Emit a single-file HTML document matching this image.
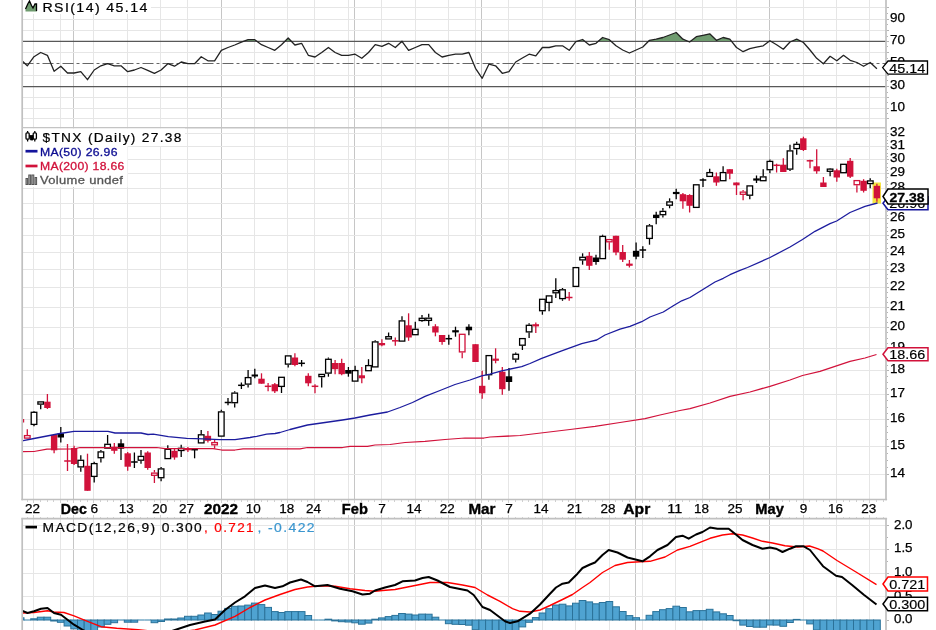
<!DOCTYPE html><html><head><meta charset="utf-8"><title>$TNX</title>
<style>html,body{margin:0;padding:0;background:#fff;overflow:hidden}svg{display:block}text{font-family:"Liberation Sans",sans-serif}</style></head><body>
<svg width="936" height="630" viewBox="0 0 936 630">
<rect width="936" height="630" fill="#fff"/>
<g shape-rendering="crispEdges">
<line x1="33.5" y1="0" x2="33.5" y2="499.5" stroke="#e6e6e6" stroke-width="1"/>
<line x1="33.5" y1="518.5" x2="33.5" y2="630" stroke="#e6e6e6" stroke-width="1"/>
<line x1="60.5" y1="0" x2="60.5" y2="499.5" stroke="#e6e6e6" stroke-width="1"/>
<line x1="60.5" y1="518.5" x2="60.5" y2="630" stroke="#e6e6e6" stroke-width="1"/>
<line x1="93.5" y1="0" x2="93.5" y2="499.5" stroke="#e6e6e6" stroke-width="1"/>
<line x1="93.5" y1="518.5" x2="93.5" y2="630" stroke="#e6e6e6" stroke-width="1"/>
<line x1="127.5" y1="0" x2="127.5" y2="499.5" stroke="#e6e6e6" stroke-width="1"/>
<line x1="127.5" y1="518.5" x2="127.5" y2="630" stroke="#e6e6e6" stroke-width="1"/>
<line x1="160.5" y1="0" x2="160.5" y2="499.5" stroke="#e6e6e6" stroke-width="1"/>
<line x1="160.5" y1="518.5" x2="160.5" y2="630" stroke="#e6e6e6" stroke-width="1"/>
<line x1="187.5" y1="0" x2="187.5" y2="499.5" stroke="#e6e6e6" stroke-width="1"/>
<line x1="187.5" y1="518.5" x2="187.5" y2="630" stroke="#e6e6e6" stroke-width="1"/>
<line x1="254.5" y1="0" x2="254.5" y2="499.5" stroke="#e6e6e6" stroke-width="1"/>
<line x1="254.5" y1="518.5" x2="254.5" y2="630" stroke="#e6e6e6" stroke-width="1"/>
<line x1="287.5" y1="0" x2="287.5" y2="499.5" stroke="#e6e6e6" stroke-width="1"/>
<line x1="287.5" y1="518.5" x2="287.5" y2="630" stroke="#e6e6e6" stroke-width="1"/>
<line x1="314.5" y1="0" x2="314.5" y2="499.5" stroke="#e6e6e6" stroke-width="1"/>
<line x1="314.5" y1="518.5" x2="314.5" y2="630" stroke="#e6e6e6" stroke-width="1"/>
<line x1="348.5" y1="0" x2="348.5" y2="499.5" stroke="#e6e6e6" stroke-width="1"/>
<line x1="348.5" y1="518.5" x2="348.5" y2="630" stroke="#e6e6e6" stroke-width="1"/>
<line x1="381.5" y1="0" x2="381.5" y2="499.5" stroke="#e6e6e6" stroke-width="1"/>
<line x1="381.5" y1="518.5" x2="381.5" y2="630" stroke="#e6e6e6" stroke-width="1"/>
<line x1="415.5" y1="0" x2="415.5" y2="499.5" stroke="#e6e6e6" stroke-width="1"/>
<line x1="415.5" y1="518.5" x2="415.5" y2="630" stroke="#e6e6e6" stroke-width="1"/>
<line x1="448.5" y1="0" x2="448.5" y2="499.5" stroke="#e6e6e6" stroke-width="1"/>
<line x1="448.5" y1="518.5" x2="448.5" y2="630" stroke="#e6e6e6" stroke-width="1"/>
<line x1="475.5" y1="0" x2="475.5" y2="499.5" stroke="#e6e6e6" stroke-width="1"/>
<line x1="475.5" y1="518.5" x2="475.5" y2="630" stroke="#e6e6e6" stroke-width="1"/>
<line x1="508.5" y1="0" x2="508.5" y2="499.5" stroke="#e6e6e6" stroke-width="1"/>
<line x1="508.5" y1="518.5" x2="508.5" y2="630" stroke="#e6e6e6" stroke-width="1"/>
<line x1="542.5" y1="0" x2="542.5" y2="499.5" stroke="#e6e6e6" stroke-width="1"/>
<line x1="542.5" y1="518.5" x2="542.5" y2="630" stroke="#e6e6e6" stroke-width="1"/>
<line x1="575.5" y1="0" x2="575.5" y2="499.5" stroke="#e6e6e6" stroke-width="1"/>
<line x1="575.5" y1="518.5" x2="575.5" y2="630" stroke="#e6e6e6" stroke-width="1"/>
<line x1="609.5" y1="0" x2="609.5" y2="499.5" stroke="#e6e6e6" stroke-width="1"/>
<line x1="609.5" y1="518.5" x2="609.5" y2="630" stroke="#e6e6e6" stroke-width="1"/>
<line x1="642.5" y1="0" x2="642.5" y2="499.5" stroke="#e6e6e6" stroke-width="1"/>
<line x1="642.5" y1="518.5" x2="642.5" y2="630" stroke="#e6e6e6" stroke-width="1"/>
<line x1="675.5" y1="0" x2="675.5" y2="499.5" stroke="#e6e6e6" stroke-width="1"/>
<line x1="675.5" y1="518.5" x2="675.5" y2="630" stroke="#e6e6e6" stroke-width="1"/>
<line x1="702.5" y1="0" x2="702.5" y2="499.5" stroke="#e6e6e6" stroke-width="1"/>
<line x1="702.5" y1="518.5" x2="702.5" y2="630" stroke="#e6e6e6" stroke-width="1"/>
<line x1="736.5" y1="0" x2="736.5" y2="499.5" stroke="#e6e6e6" stroke-width="1"/>
<line x1="736.5" y1="518.5" x2="736.5" y2="630" stroke="#e6e6e6" stroke-width="1"/>
<line x1="803.5" y1="0" x2="803.5" y2="499.5" stroke="#e6e6e6" stroke-width="1"/>
<line x1="803.5" y1="518.5" x2="803.5" y2="630" stroke="#e6e6e6" stroke-width="1"/>
<line x1="836.5" y1="0" x2="836.5" y2="499.5" stroke="#e6e6e6" stroke-width="1"/>
<line x1="836.5" y1="518.5" x2="836.5" y2="630" stroke="#e6e6e6" stroke-width="1"/>
<line x1="869.5" y1="0" x2="869.5" y2="499.5" stroke="#e6e6e6" stroke-width="1"/>
<line x1="869.5" y1="518.5" x2="869.5" y2="630" stroke="#e6e6e6" stroke-width="1"/>
<line x1="73.5" y1="0" x2="73.5" y2="499.5" stroke="#c6c6c6" stroke-width="1"/>
<line x1="73.5" y1="518.5" x2="73.5" y2="630" stroke="#c6c6c6" stroke-width="1"/>
<line x1="221.5" y1="0" x2="221.5" y2="499.5" stroke="#c6c6c6" stroke-width="1"/>
<line x1="221.5" y1="518.5" x2="221.5" y2="630" stroke="#c6c6c6" stroke-width="1"/>
<line x1="354.5" y1="0" x2="354.5" y2="499.5" stroke="#c6c6c6" stroke-width="1"/>
<line x1="354.5" y1="518.5" x2="354.5" y2="630" stroke="#c6c6c6" stroke-width="1"/>
<line x1="481.5" y1="0" x2="481.5" y2="499.5" stroke="#c6c6c6" stroke-width="1"/>
<line x1="481.5" y1="518.5" x2="481.5" y2="630" stroke="#c6c6c6" stroke-width="1"/>
<line x1="635.5" y1="0" x2="635.5" y2="499.5" stroke="#c6c6c6" stroke-width="1"/>
<line x1="635.5" y1="518.5" x2="635.5" y2="630" stroke="#c6c6c6" stroke-width="1"/>
<line x1="769.5" y1="0" x2="769.5" y2="499.5" stroke="#c6c6c6" stroke-width="1"/>
<line x1="769.5" y1="518.5" x2="769.5" y2="630" stroke="#c6c6c6" stroke-width="1"/>
<line x1="22.5" y1="7.5" x2="886.5" y2="7.5" stroke="#e6e6e6" stroke-width="1"/>
<line x1="22.5" y1="19.5" x2="886.5" y2="19.5" stroke="#e6e6e6" stroke-width="1"/>
<line x1="22.5" y1="30.5" x2="886.5" y2="30.5" stroke="#e6e6e6" stroke-width="1"/>
<line x1="22.5" y1="52.5" x2="886.5" y2="52.5" stroke="#e6e6e6" stroke-width="1"/>
<line x1="22.5" y1="75.5" x2="886.5" y2="75.5" stroke="#e6e6e6" stroke-width="1"/>
<line x1="22.5" y1="97.5" x2="886.5" y2="97.5" stroke="#e6e6e6" stroke-width="1"/>
<line x1="22.5" y1="108.5" x2="886.5" y2="108.5" stroke="#e6e6e6" stroke-width="1"/>
<line x1="22.5" y1="118.5" x2="886.5" y2="118.5" stroke="#e6e6e6" stroke-width="1"/>
<line x1="22.5" y1="474.5" x2="886.5" y2="474.5" stroke="#e6e6e6" stroke-width="1"/>
<line x1="22.5" y1="446.5" x2="886.5" y2="446.5" stroke="#e6e6e6" stroke-width="1"/>
<line x1="22.5" y1="419.5" x2="886.5" y2="419.5" stroke="#e6e6e6" stroke-width="1"/>
<line x1="22.5" y1="394.5" x2="886.5" y2="394.5" stroke="#e6e6e6" stroke-width="1"/>
<line x1="22.5" y1="370.5" x2="886.5" y2="370.5" stroke="#e6e6e6" stroke-width="1"/>
<line x1="22.5" y1="348.5" x2="886.5" y2="348.5" stroke="#e6e6e6" stroke-width="1"/>
<line x1="22.5" y1="327.5" x2="886.5" y2="327.5" stroke="#e6e6e6" stroke-width="1"/>
<line x1="22.5" y1="307.5" x2="886.5" y2="307.5" stroke="#e6e6e6" stroke-width="1"/>
<line x1="22.5" y1="287.5" x2="886.5" y2="287.5" stroke="#e6e6e6" stroke-width="1"/>
<line x1="22.5" y1="269.5" x2="886.5" y2="269.5" stroke="#e6e6e6" stroke-width="1"/>
<line x1="22.5" y1="252.5" x2="886.5" y2="252.5" stroke="#e6e6e6" stroke-width="1"/>
<line x1="22.5" y1="235.5" x2="886.5" y2="235.5" stroke="#e6e6e6" stroke-width="1"/>
<line x1="22.5" y1="218.5" x2="886.5" y2="218.5" stroke="#e6e6e6" stroke-width="1"/>
<line x1="22.5" y1="203.5" x2="886.5" y2="203.5" stroke="#e6e6e6" stroke-width="1"/>
<line x1="22.5" y1="188.5" x2="886.5" y2="188.5" stroke="#e6e6e6" stroke-width="1"/>
<line x1="22.5" y1="173.5" x2="886.5" y2="173.5" stroke="#e6e6e6" stroke-width="1"/>
<line x1="22.5" y1="159.5" x2="886.5" y2="159.5" stroke="#e6e6e6" stroke-width="1"/>
<line x1="22.5" y1="146.5" x2="886.5" y2="146.5" stroke="#e6e6e6" stroke-width="1"/>
<line x1="22.5" y1="133.5" x2="886.5" y2="133.5" stroke="#e6e6e6" stroke-width="1"/>
<line x1="22.5" y1="596.5" x2="886.5" y2="596.5" stroke="#e6e6e6" stroke-width="1"/>
<line x1="22.5" y1="573.5" x2="886.5" y2="573.5" stroke="#e6e6e6" stroke-width="1"/>
<line x1="22.5" y1="549.5" x2="886.5" y2="549.5" stroke="#e6e6e6" stroke-width="1"/>
<line x1="22.5" y1="525.5" x2="886.5" y2="525.5" stroke="#e6e6e6" stroke-width="1"/>
</g>
<line x1="22.5" y1="41.3" x2="886.5" y2="41.3" stroke="#585858" stroke-width="1.25"/>
<line x1="22.5" y1="86.5" x2="886.5" y2="86.5" stroke="#585858" stroke-width="1.25"/>
<line x1="22.5" y1="63.5" x2="886.5" y2="63.5" stroke="#666" stroke-width="1.2" stroke-dasharray="11 3 3 3"/>
<clipPath id="c70"><rect x="0" y="0" width="936" height="41"/></clipPath>
<polygon clip-path="url(#c70)" points="22.5,41 22.5,61.3 27.3,65.8 34.0,56.7 40.7,52.5 47.4,55.3 54.1,71.3 60.8,66.3 67.5,73.0 74.1,73.0 80.8,71.7 87.5,79.7 94.2,70.0 100.9,65.8 107.6,63.7 114.3,65.8 121.0,65.8 127.7,71.7 134.4,70.0 141.0,67.5 147.7,70.3 154.4,73.3 161.1,70.0 167.8,63.7 174.5,66.2 181.2,62.0 187.9,63.7 194.6,63.7 201.2,56.7 207.9,60.8 214.6,60.8 221.3,50.3 228.0,47.5 234.7,45.0 241.4,42.2 248.1,39.7 254.8,39.7 261.5,44.7 268.1,47.5 274.8,50.3 281.5,44.7 288.2,38.0 294.9,45.0 301.6,43.3 308.3,55.3 315.0,57.0 321.7,52.5 328.4,47.5 335.1,52.5 341.7,55.3 348.4,55.3 355.1,54.2 361.8,58.3 368.5,52.5 375.2,44.7 381.9,46.3 388.6,43.3 395.3,47.5 402.0,41.3 408.6,50.3 415.3,47.5 422.0,44.7 428.7,44.7 435.4,52.5 442.1,57.0 448.8,55.3 455.5,54.2 462.2,54.2 468.9,52.5 475.5,68.3 482.2,78.3 488.9,64.2 495.6,65.8 502.3,73.3 509.0,71.7 515.7,62.0 522.4,58.0 529.1,54.2 535.8,55.8 542.4,47.5 549.1,47.5 555.8,45.8 562.5,45.8 569.2,50.3 575.9,41.7 582.6,39.5 589.3,45.0 596.0,43.3 602.6,37.5 609.3,39.7 616.0,45.8 622.7,50.0 629.4,53.0 636.1,50.0 642.8,47.0 649.5,40.3 656.2,39.2 662.9,37.5 669.6,35.0 676.2,32.5 682.9,39.2 689.6,42.0 696.3,36.7 703.0,35.3 709.7,33.8 716.4,40.3 723.1,37.5 729.8,39.2 736.5,47.5 743.1,51.7 749.8,48.7 756.5,47.2 763.2,45.8 769.9,40.8 776.6,44.7 783.3,49.2 790.0,42.0 796.7,39.2 803.4,42.5 810.0,50.0 816.7,58.3 823.4,63.7 830.1,56.3 836.8,60.8 843.5,55.3 850.2,60.3 856.9,62.5 863.6,66.3 870.2,62.5 876.9,68.7 876.9,41" fill="#6f9b6f"/>
<polyline points="22.5,61.3 27.3,65.8 34.0,56.7 40.7,52.5 47.4,55.3 54.1,71.3 60.8,66.3 67.5,73.0 74.1,73.0 80.8,71.7 87.5,79.7 94.2,70.0 100.9,65.8 107.6,63.7 114.3,65.8 121.0,65.8 127.7,71.7 134.4,70.0 141.0,67.5 147.7,70.3 154.4,73.3 161.1,70.0 167.8,63.7 174.5,66.2 181.2,62.0 187.9,63.7 194.6,63.7 201.2,56.7 207.9,60.8 214.6,60.8 221.3,50.3 228.0,47.5 234.7,45.0 241.4,42.2 248.1,39.7 254.8,39.7 261.5,44.7 268.1,47.5 274.8,50.3 281.5,44.7 288.2,38.0 294.9,45.0 301.6,43.3 308.3,55.3 315.0,57.0 321.7,52.5 328.4,47.5 335.1,52.5 341.7,55.3 348.4,55.3 355.1,54.2 361.8,58.3 368.5,52.5 375.2,44.7 381.9,46.3 388.6,43.3 395.3,47.5 402.0,41.3 408.6,50.3 415.3,47.5 422.0,44.7 428.7,44.7 435.4,52.5 442.1,57.0 448.8,55.3 455.5,54.2 462.2,54.2 468.9,52.5 475.5,68.3 482.2,78.3 488.9,64.2 495.6,65.8 502.3,73.3 509.0,71.7 515.7,62.0 522.4,58.0 529.1,54.2 535.8,55.8 542.4,47.5 549.1,47.5 555.8,45.8 562.5,45.8 569.2,50.3 575.9,41.7 582.6,39.5 589.3,45.0 596.0,43.3 602.6,37.5 609.3,39.7 616.0,45.8 622.7,50.0 629.4,53.0 636.1,50.0 642.8,47.0 649.5,40.3 656.2,39.2 662.9,37.5 669.6,35.0 676.2,32.5 682.9,39.2 689.6,42.0 696.3,36.7 703.0,35.3 709.7,33.8 716.4,40.3 723.1,37.5 729.8,39.2 736.5,47.5 743.1,51.7 749.8,48.7 756.5,47.2 763.2,45.8 769.9,40.8 776.6,44.7 783.3,49.2 790.0,42.0 796.7,39.2 803.4,42.5 810.0,50.0 816.7,58.3 823.4,63.7 830.1,56.3 836.8,60.8 843.5,55.3 850.2,60.3 856.9,62.5 863.6,66.3 870.2,62.5 876.9,68.7" fill="none" stroke="#222" stroke-width="1.3" stroke-linejoin="round"/>
<rect x="872.5" y="182.5" width="8.5" height="21" fill="#f4e640"/>
<rect x="22" y="419" width="2.2" height="3.5" fill="#d1123b"/>
<line x1="27.3" y1="429.2" x2="27.3" y2="435" stroke="#d1123b" stroke-width="1.3"/>
<rect x="24.5" y="435.6" width="5.6" height="2.5" fill="#fff" stroke="#d1123b" stroke-width="1.3"/>
<line x1="34.0" y1="411" x2="34.0" y2="411.7" stroke="#000" stroke-width="1.3"/>
<line x1="34.0" y1="425" x2="34.0" y2="426.3" stroke="#000" stroke-width="1.3"/>
<rect x="31.2" y="412.3" width="5.6" height="12.1" fill="#fff" stroke="#000" stroke-width="1.3"/>
<line x1="40.7" y1="404.65" x2="40.7" y2="409.2" stroke="#000" stroke-width="1.3"/>
<rect x="37.9" y="401.9" width="5.6" height="2.2" fill="#fff" stroke="#000" stroke-width="1.3"/>
<line x1="47.4" y1="394" x2="47.4" y2="409" stroke="#d1123b" stroke-width="1.3"/>
<rect x="44.2" y="401.7" width="6.4" height="6.3" fill="#d1123b"/>
<line x1="54.1" y1="434" x2="54.1" y2="453.3" stroke="#d1123b" stroke-width="1.3"/>
<rect x="50.9" y="435" width="6.4" height="15.3" fill="#d1123b"/>
<line x1="60.8" y1="427" x2="60.8" y2="442.5" stroke="#000" stroke-width="1.3"/>
<rect x="57.6" y="433.3" width="6.4" height="4.2" fill="#000"/>
<line x1="67.5" y1="444" x2="67.5" y2="471" stroke="#d1123b" stroke-width="1.3"/>
<line x1="64.2" y1="461" x2="70.8" y2="461" stroke="#d1123b" stroke-width="1.5"/>
<line x1="74.1" y1="445.8" x2="74.1" y2="465" stroke="#d1123b" stroke-width="1.3"/>
<rect x="70.9" y="448" width="6.4" height="16.0" fill="#d1123b"/>
<line x1="80.8" y1="455.3" x2="80.8" y2="459.7" stroke="#000" stroke-width="1.3"/>
<line x1="80.8" y1="467.5" x2="80.8" y2="471.7" stroke="#000" stroke-width="1.3"/>
<rect x="78.0" y="460.3" width="5.6" height="6.6" fill="#fff" stroke="#000" stroke-width="1.3"/>
<line x1="87.5" y1="453.7" x2="87.5" y2="490.8" stroke="#d1123b" stroke-width="1.3"/>
<rect x="84.3" y="465.8" width="6.4" height="25.0" fill="#d1123b"/>
<line x1="94.2" y1="461.7" x2="94.2" y2="463" stroke="#000" stroke-width="1.3"/>
<line x1="94.2" y1="477" x2="94.2" y2="482.5" stroke="#000" stroke-width="1.3"/>
<rect x="91.4" y="463.6" width="5.6" height="12.8" fill="#fff" stroke="#000" stroke-width="1.3"/>
<line x1="100.9" y1="450" x2="100.9" y2="451.3" stroke="#000" stroke-width="1.3"/>
<line x1="100.9" y1="458.3" x2="100.9" y2="462.5" stroke="#000" stroke-width="1.3"/>
<rect x="98.1" y="451.9" width="5.6" height="5.8" fill="#fff" stroke="#000" stroke-width="1.3"/>
<line x1="107.6" y1="435" x2="107.6" y2="443.7" stroke="#000" stroke-width="1.3"/>
<rect x="104.8" y="444.3" width="5.6" height="3.8" fill="#fff" stroke="#000" stroke-width="1.3"/>
<line x1="114.3" y1="443" x2="114.3" y2="453.7" stroke="#d1123b" stroke-width="1.3"/>
<rect x="111.1" y="446.7" width="6.4" height="4.1" fill="#d1123b"/>
<line x1="121.0" y1="439.2" x2="121.0" y2="460" stroke="#000" stroke-width="1.3"/>
<rect x="117.8" y="443.3" width="6.4" height="5.4" fill="#000"/>
<line x1="127.7" y1="452" x2="127.7" y2="470.8" stroke="#d1123b" stroke-width="1.3"/>
<rect x="124.5" y="453.3" width="6.4" height="13.4" fill="#d1123b"/>
<line x1="134.4" y1="452.5" x2="134.4" y2="468" stroke="#000" stroke-width="1.3"/>
<line x1="131.1" y1="462" x2="137.7" y2="462" stroke="#000" stroke-width="1.5"/>
<line x1="141.0" y1="450" x2="141.0" y2="455.8" stroke="#000" stroke-width="1.3"/>
<line x1="141.0" y1="460.8" x2="141.0" y2="463.7" stroke="#000" stroke-width="1.3"/>
<rect x="138.2" y="456.4" width="5.6" height="3.8" fill="#fff" stroke="#000" stroke-width="1.3"/>
<line x1="147.7" y1="451.3" x2="147.7" y2="469.7" stroke="#d1123b" stroke-width="1.3"/>
<rect x="144.5" y="452.5" width="6.4" height="15.5" fill="#d1123b"/>
<line x1="154.4" y1="470" x2="154.4" y2="472.45" stroke="#d1123b" stroke-width="1.3"/>
<line x1="154.4" y1="475.84999999999997" x2="154.4" y2="483" stroke="#d1123b" stroke-width="1.3"/>
<rect x="151.6" y="473.1" width="5.6" height="2.2" fill="#fff" stroke="#d1123b" stroke-width="1.3"/>
<line x1="161.1" y1="467" x2="161.1" y2="468.3" stroke="#000" stroke-width="1.3"/>
<line x1="161.1" y1="478.3" x2="161.1" y2="481.3" stroke="#000" stroke-width="1.3"/>
<rect x="158.3" y="468.9" width="5.6" height="8.8" fill="#fff" stroke="#000" stroke-width="1.3"/>
<line x1="167.8" y1="445.3" x2="167.8" y2="448.7" stroke="#000" stroke-width="1.3"/>
<rect x="165.0" y="449.3" width="5.6" height="9.3" fill="#fff" stroke="#000" stroke-width="1.3"/>
<line x1="174.5" y1="449" x2="174.5" y2="459.7" stroke="#d1123b" stroke-width="1.3"/>
<rect x="171.3" y="450.8" width="6.4" height="6.7" fill="#d1123b"/>
<line x1="181.2" y1="444.7" x2="181.2" y2="447.7" stroke="#000" stroke-width="1.3"/>
<line x1="181.2" y1="451.09999999999997" x2="181.2" y2="457" stroke="#000" stroke-width="1.3"/>
<rect x="178.4" y="448.3" width="5.6" height="2.2" fill="#fff" stroke="#000" stroke-width="1.3"/>
<line x1="187.9" y1="447" x2="187.9" y2="452" stroke="#d1123b" stroke-width="1.3"/>
<line x1="184.6" y1="449.5" x2="191.2" y2="449.5" stroke="#d1123b" stroke-width="1.5"/>
<line x1="194.6" y1="449.7" x2="194.6" y2="458.3" stroke="#000" stroke-width="1.3"/>
<line x1="191.3" y1="449.7" x2="197.9" y2="449.7" stroke="#000" stroke-width="1.5"/>
<line x1="201.2" y1="430" x2="201.2" y2="434.2" stroke="#000" stroke-width="1.3"/>
<rect x="198.4" y="434.8" width="5.6" height="8.1" fill="#fff" stroke="#000" stroke-width="1.3"/>
<line x1="207.9" y1="431" x2="207.9" y2="442.5" stroke="#d1123b" stroke-width="1.3"/>
<rect x="204.7" y="435.8" width="6.4" height="5.0" fill="#d1123b"/>
<line x1="214.6" y1="440" x2="214.6" y2="441.95" stroke="#d1123b" stroke-width="1.3"/>
<line x1="214.6" y1="445.34999999999997" x2="214.6" y2="448.7" stroke="#d1123b" stroke-width="1.3"/>
<rect x="211.8" y="442.6" width="5.6" height="2.2" fill="#fff" stroke="#d1123b" stroke-width="1.3"/>
<line x1="221.3" y1="409.7" x2="221.3" y2="411.3" stroke="#000" stroke-width="1.3"/>
<rect x="218.5" y="411.9" width="5.6" height="24.2" fill="#fff" stroke="#000" stroke-width="1.3"/>
<line x1="228.0" y1="398" x2="228.0" y2="405.3" stroke="#000" stroke-width="1.3"/>
<line x1="224.7" y1="402.5" x2="231.3" y2="402.5" stroke="#000" stroke-width="1.5"/>
<line x1="234.7" y1="391.3" x2="234.7" y2="392.5" stroke="#000" stroke-width="1.3"/>
<line x1="234.7" y1="403.3" x2="234.7" y2="407.5" stroke="#000" stroke-width="1.3"/>
<rect x="231.9" y="393.1" width="5.6" height="9.6" fill="#fff" stroke="#000" stroke-width="1.3"/>
<line x1="241.4" y1="382.5" x2="241.4" y2="389" stroke="#000" stroke-width="1.3"/>
<line x1="238.1" y1="385.3" x2="244.7" y2="385.3" stroke="#000" stroke-width="1.5"/>
<line x1="248.1" y1="370" x2="248.1" y2="377" stroke="#000" stroke-width="1.3"/>
<line x1="248.1" y1="384.7" x2="248.1" y2="387.5" stroke="#000" stroke-width="1.3"/>
<rect x="245.3" y="377.6" width="5.6" height="6.5" fill="#fff" stroke="#000" stroke-width="1.3"/>
<line x1="254.8" y1="368.7" x2="254.8" y2="378.3" stroke="#000" stroke-width="1.3"/>
<rect x="251.6" y="374.5" width="6.4" height="2.0" fill="#000"/>
<line x1="261.5" y1="373.3" x2="261.5" y2="383.7" stroke="#d1123b" stroke-width="1.3"/>
<rect x="258.3" y="378.7" width="6.4" height="5.0" fill="#d1123b"/>
<line x1="268.1" y1="383" x2="268.1" y2="391.3" stroke="#d1123b" stroke-width="1.3"/>
<line x1="264.8" y1="386.3" x2="271.4" y2="386.3" stroke="#d1123b" stroke-width="1.5"/>
<line x1="274.8" y1="383" x2="274.8" y2="393" stroke="#d1123b" stroke-width="1.3"/>
<rect x="271.6" y="384.2" width="6.4" height="7.1" fill="#d1123b"/>
<line x1="281.5" y1="387" x2="281.5" y2="393" stroke="#000" stroke-width="1.3"/>
<rect x="278.7" y="377.3" width="5.6" height="9.1" fill="#fff" stroke="#000" stroke-width="1.3"/>
<line x1="288.2" y1="364.7" x2="288.2" y2="367.5" stroke="#000" stroke-width="1.3"/>
<rect x="285.4" y="355.9" width="5.6" height="8.2" fill="#fff" stroke="#000" stroke-width="1.3"/>
<line x1="294.9" y1="353.3" x2="294.9" y2="366.3" stroke="#d1123b" stroke-width="1.3"/>
<rect x="291.7" y="357.5" width="6.4" height="7.5" fill="#d1123b"/>
<line x1="301.6" y1="360" x2="301.6" y2="366.5" stroke="#000" stroke-width="1.3"/>
<line x1="298.3" y1="363.3" x2="304.9" y2="363.3" stroke="#000" stroke-width="1.5"/>
<line x1="308.3" y1="373.3" x2="308.3" y2="386.3" stroke="#d1123b" stroke-width="1.3"/>
<rect x="305.1" y="375.8" width="6.4" height="7.5" fill="#d1123b"/>
<line x1="315.0" y1="384.2" x2="315.0" y2="393.3" stroke="#d1123b" stroke-width="1.3"/>
<line x1="311.7" y1="386.3" x2="318.3" y2="386.3" stroke="#d1123b" stroke-width="1.5"/>
<line x1="321.7" y1="377.2" x2="321.7" y2="387.5" stroke="#000" stroke-width="1.3"/>
<rect x="318.9" y="374.4" width="5.6" height="2.2" fill="#fff" stroke="#000" stroke-width="1.3"/>
<line x1="328.4" y1="357.5" x2="328.4" y2="358.7" stroke="#000" stroke-width="1.3"/>
<line x1="328.4" y1="373.7" x2="328.4" y2="376.7" stroke="#000" stroke-width="1.3"/>
<rect x="325.6" y="359.3" width="5.6" height="13.8" fill="#fff" stroke="#000" stroke-width="1.3"/>
<line x1="335.1" y1="360" x2="335.1" y2="374.2" stroke="#d1123b" stroke-width="1.3"/>
<rect x="331.9" y="363" width="6.4" height="6.2" fill="#d1123b"/>
<line x1="341.7" y1="358.7" x2="341.7" y2="375.3" stroke="#d1123b" stroke-width="1.3"/>
<rect x="338.5" y="363" width="6.4" height="11.2" fill="#d1123b"/>
<line x1="348.4" y1="367" x2="348.4" y2="376.7" stroke="#000" stroke-width="1.3"/>
<rect x="345.2" y="370" width="6.4" height="3.7" fill="#000"/>
<line x1="355.1" y1="365.8" x2="355.1" y2="370" stroke="#000" stroke-width="1.3"/>
<rect x="352.3" y="370.6" width="5.6" height="10.5" fill="#fff" stroke="#000" stroke-width="1.3"/>
<line x1="361.8" y1="367" x2="361.8" y2="383.3" stroke="#d1123b" stroke-width="1.3"/>
<rect x="358.6" y="375.3" width="6.4" height="3.0" fill="#d1123b"/>
<line x1="368.5" y1="359.2" x2="368.5" y2="365" stroke="#000" stroke-width="1.3"/>
<rect x="365.7" y="365.6" width="5.6" height="5.1" fill="#fff" stroke="#000" stroke-width="1.3"/>
<line x1="375.2" y1="340.3" x2="375.2" y2="341.3" stroke="#000" stroke-width="1.3"/>
<rect x="372.4" y="341.9" width="5.6" height="25.0" fill="#fff" stroke="#000" stroke-width="1.3"/>
<line x1="381.9" y1="339.2" x2="381.9" y2="346.3" stroke="#d1123b" stroke-width="1.3"/>
<rect x="378.7" y="343" width="6.4" height="2.3" fill="#d1123b"/>
<line x1="388.6" y1="332.5" x2="388.6" y2="336.05" stroke="#000" stroke-width="1.3"/>
<rect x="385.8" y="336.7" width="5.6" height="2.2" fill="#fff" stroke="#000" stroke-width="1.3"/>
<line x1="395.3" y1="337.5" x2="395.3" y2="345.8" stroke="#d1123b" stroke-width="1.3"/>
<line x1="392.0" y1="340.8" x2="398.6" y2="340.8" stroke="#d1123b" stroke-width="1.5"/>
<line x1="402.0" y1="316.3" x2="402.0" y2="320.3" stroke="#000" stroke-width="1.3"/>
<rect x="399.2" y="320.9" width="5.6" height="20.2" fill="#fff" stroke="#000" stroke-width="1.3"/>
<line x1="408.6" y1="313.3" x2="408.6" y2="340.8" stroke="#d1123b" stroke-width="1.3"/>
<rect x="405.4" y="325.3" width="6.4" height="12.2" fill="#d1123b"/>
<line x1="415.3" y1="321.7" x2="415.3" y2="328.7" stroke="#000" stroke-width="1.3"/>
<rect x="412.5" y="329.3" width="5.6" height="5.4" fill="#fff" stroke="#000" stroke-width="1.3"/>
<line x1="422.0" y1="315" x2="422.0" y2="317.7" stroke="#000" stroke-width="1.3"/>
<line x1="422.0" y1="321.09999999999997" x2="422.0" y2="321.7" stroke="#000" stroke-width="1.3"/>
<rect x="419.2" y="318.3" width="5.6" height="2.2" fill="#fff" stroke="#000" stroke-width="1.3"/>
<line x1="428.7" y1="313.7" x2="428.7" y2="317.55" stroke="#000" stroke-width="1.3"/>
<line x1="428.7" y1="320.95" x2="428.7" y2="325.8" stroke="#000" stroke-width="1.3"/>
<rect x="425.9" y="318.2" width="5.6" height="2.2" fill="#fff" stroke="#000" stroke-width="1.3"/>
<line x1="435.4" y1="324.2" x2="435.4" y2="336.3" stroke="#d1123b" stroke-width="1.3"/>
<rect x="432.2" y="326.3" width="6.4" height="6.2" fill="#d1123b"/>
<line x1="442.1" y1="335" x2="442.1" y2="344.7" stroke="#d1123b" stroke-width="1.3"/>
<rect x="438.9" y="335" width="6.4" height="7.0" fill="#d1123b"/>
<line x1="448.8" y1="334.7" x2="448.8" y2="344.7" stroke="#000" stroke-width="1.3"/>
<line x1="445.5" y1="338.7" x2="452.1" y2="338.7" stroke="#000" stroke-width="1.5"/>
<line x1="455.5" y1="326.7" x2="455.5" y2="336.7" stroke="#000" stroke-width="1.3"/>
<line x1="452.2" y1="331.3" x2="458.8" y2="331.3" stroke="#000" stroke-width="2.2"/>
<line x1="462.2" y1="352.5" x2="462.2" y2="358.3" stroke="#d1123b" stroke-width="1.3"/>
<rect x="459.4" y="334.3" width="5.6" height="17.6" fill="#fff" stroke="#d1123b" stroke-width="1.3"/>
<line x1="468.9" y1="324.2" x2="468.9" y2="335.3" stroke="#000" stroke-width="1.3"/>
<rect x="465.7" y="326.7" width="6.4" height="3.6" fill="#000"/>
<line x1="475.5" y1="344.2" x2="475.5" y2="362" stroke="#d1123b" stroke-width="1.3"/>
<rect x="472.3" y="344.2" width="6.4" height="17.8" fill="#d1123b"/>
<line x1="482.2" y1="370.8" x2="482.2" y2="398.7" stroke="#d1123b" stroke-width="1.3"/>
<rect x="479.0" y="385.8" width="6.4" height="7.5" fill="#d1123b"/>
<line x1="488.9" y1="375.3" x2="488.9" y2="379.7" stroke="#000" stroke-width="1.3"/>
<rect x="486.1" y="355.6" width="5.6" height="19.1" fill="#fff" stroke="#000" stroke-width="1.3"/>
<line x1="495.6" y1="348.3" x2="495.6" y2="363.3" stroke="#d1123b" stroke-width="1.3"/>
<line x1="492.3" y1="359.7" x2="498.9" y2="359.7" stroke="#d1123b" stroke-width="2.2"/>
<line x1="502.3" y1="367" x2="502.3" y2="394.7" stroke="#d1123b" stroke-width="1.3"/>
<rect x="499.1" y="371.7" width="6.4" height="17.5" fill="#d1123b"/>
<line x1="509.0" y1="368" x2="509.0" y2="390.8" stroke="#000" stroke-width="1.3"/>
<rect x="505.8" y="376.3" width="6.4" height="5.7" fill="#000"/>
<line x1="515.7" y1="352.5" x2="515.7" y2="353.7" stroke="#000" stroke-width="1.3"/>
<line x1="515.7" y1="359.7" x2="515.7" y2="362.5" stroke="#000" stroke-width="1.3"/>
<rect x="512.9" y="354.3" width="5.6" height="4.8" fill="#fff" stroke="#000" stroke-width="1.3"/>
<line x1="522.4" y1="345.8" x2="522.4" y2="350" stroke="#000" stroke-width="1.3"/>
<rect x="519.6" y="338.6" width="5.6" height="6.6" fill="#fff" stroke="#000" stroke-width="1.3"/>
<line x1="529.1" y1="323.3" x2="529.1" y2="324.7" stroke="#000" stroke-width="1.3"/>
<line x1="529.1" y1="332.5" x2="529.1" y2="338" stroke="#000" stroke-width="1.3"/>
<rect x="526.3" y="325.3" width="5.6" height="6.6" fill="#fff" stroke="#000" stroke-width="1.3"/>
<line x1="535.8" y1="322.5" x2="535.8" y2="333" stroke="#d1123b" stroke-width="1.3"/>
<line x1="532.5" y1="325.3" x2="539.0" y2="325.3" stroke="#d1123b" stroke-width="2.2"/>
<line x1="542.4" y1="311.3" x2="542.4" y2="314.7" stroke="#000" stroke-width="1.3"/>
<rect x="539.6" y="299.3" width="5.6" height="11.4" fill="#fff" stroke="#000" stroke-width="1.3"/>
<line x1="549.1" y1="303" x2="549.1" y2="311.3" stroke="#000" stroke-width="1.3"/>
<rect x="546.3" y="295.9" width="5.6" height="6.5" fill="#fff" stroke="#000" stroke-width="1.3"/>
<line x1="555.8" y1="278.3" x2="555.8" y2="289.95" stroke="#000" stroke-width="1.3"/>
<line x1="555.8" y1="293.34999999999997" x2="555.8" y2="298" stroke="#000" stroke-width="1.3"/>
<rect x="553.0" y="290.6" width="5.6" height="2.2" fill="#fff" stroke="#000" stroke-width="1.3"/>
<line x1="562.5" y1="288" x2="562.5" y2="289.2" stroke="#000" stroke-width="1.3"/>
<line x1="562.5" y1="299.2" x2="562.5" y2="300.8" stroke="#000" stroke-width="1.3"/>
<rect x="559.7" y="289.8" width="5.6" height="8.8" fill="#fff" stroke="#000" stroke-width="1.3"/>
<line x1="569.2" y1="292" x2="569.2" y2="300.8" stroke="#d1123b" stroke-width="1.3"/>
<line x1="565.9" y1="297.5" x2="572.5" y2="297.5" stroke="#d1123b" stroke-width="1.5"/>
<rect x="573.1" y="267.6" width="5.6" height="18.8" fill="#fff" stroke="#000" stroke-width="1.3"/>
<line x1="582.6" y1="253.3" x2="582.6" y2="256.7" stroke="#000" stroke-width="1.3"/>
<line x1="582.6" y1="260.5" x2="582.6" y2="264.7" stroke="#000" stroke-width="1.3"/>
<rect x="579.8" y="257.3" width="5.6" height="2.6" fill="#fff" stroke="#000" stroke-width="1.3"/>
<line x1="589.3" y1="252" x2="589.3" y2="270" stroke="#d1123b" stroke-width="1.3"/>
<rect x="586.1" y="255.8" width="6.4" height="10.0" fill="#d1123b"/>
<line x1="596.0" y1="254.7" x2="596.0" y2="264.7" stroke="#000" stroke-width="1.3"/>
<rect x="592.8" y="257.5" width="6.4" height="4.5" fill="#000"/>
<line x1="602.6" y1="234.7" x2="602.6" y2="235.8" stroke="#000" stroke-width="1.3"/>
<rect x="599.9" y="236.4" width="5.6" height="22.2" fill="#fff" stroke="#000" stroke-width="1.3"/>
<line x1="609.3" y1="242.35" x2="609.3" y2="249.7" stroke="#d1123b" stroke-width="1.3"/>
<rect x="606.5" y="239.6" width="5.6" height="2.2" fill="#fff" stroke="#d1123b" stroke-width="1.3"/>
<line x1="616.0" y1="235.8" x2="616.0" y2="255.3" stroke="#d1123b" stroke-width="1.3"/>
<rect x="612.8" y="235.8" width="6.4" height="16.7" fill="#d1123b"/>
<line x1="622.7" y1="245" x2="622.7" y2="262" stroke="#d1123b" stroke-width="1.3"/>
<rect x="619.5" y="252" width="6.4" height="7.7" fill="#d1123b"/>
<line x1="629.4" y1="260" x2="629.4" y2="267.5" stroke="#d1123b" stroke-width="1.3"/>
<line x1="626.1" y1="264.7" x2="632.7" y2="264.7" stroke="#d1123b" stroke-width="2.2"/>
<line x1="636.1" y1="242.5" x2="636.1" y2="259.2" stroke="#000" stroke-width="1.3"/>
<rect x="632.9" y="250.8" width="6.4" height="5.9" fill="#000"/>
<line x1="642.8" y1="246.3" x2="642.8" y2="258" stroke="#000" stroke-width="1.3"/>
<line x1="639.5" y1="250" x2="646.1" y2="250" stroke="#000" stroke-width="1.5"/>
<line x1="649.5" y1="224" x2="649.5" y2="225.3" stroke="#000" stroke-width="1.3"/>
<line x1="649.5" y1="239" x2="649.5" y2="244.7" stroke="#000" stroke-width="1.3"/>
<rect x="646.7" y="225.9" width="5.6" height="12.5" fill="#fff" stroke="#000" stroke-width="1.3"/>
<line x1="656.2" y1="211.7" x2="656.2" y2="224.2" stroke="#000" stroke-width="1.3"/>
<rect x="653.0" y="214.7" width="6.4" height="3.3" fill="#000"/>
<line x1="662.9" y1="208" x2="662.9" y2="210.8" stroke="#000" stroke-width="1.3"/>
<line x1="662.9" y1="215.3" x2="662.9" y2="217.5" stroke="#000" stroke-width="1.3"/>
<rect x="660.1" y="211.4" width="5.6" height="3.3" fill="#fff" stroke="#000" stroke-width="1.3"/>
<line x1="669.6" y1="198.3" x2="669.6" y2="201.3" stroke="#000" stroke-width="1.3"/>
<line x1="669.6" y1="205.8" x2="669.6" y2="208.3" stroke="#000" stroke-width="1.3"/>
<rect x="666.8" y="201.9" width="5.6" height="3.3" fill="#fff" stroke="#000" stroke-width="1.3"/>
<line x1="676.2" y1="188.7" x2="676.2" y2="199.2" stroke="#000" stroke-width="1.3"/>
<line x1="672.9" y1="193" x2="679.5" y2="193" stroke="#000" stroke-width="2.2"/>
<line x1="682.9" y1="193" x2="682.9" y2="208.7" stroke="#d1123b" stroke-width="1.3"/>
<rect x="679.7" y="194.2" width="6.4" height="7.1" fill="#d1123b"/>
<line x1="689.6" y1="194.2" x2="689.6" y2="212.5" stroke="#d1123b" stroke-width="1.3"/>
<rect x="686.4" y="195" width="6.4" height="10.8" fill="#d1123b"/>
<rect x="693.5" y="184.8" width="5.6" height="22.6" fill="#fff" stroke="#000" stroke-width="1.3"/>
<line x1="703.0" y1="178.3" x2="703.0" y2="187" stroke="#000" stroke-width="1.3"/>
<line x1="699.7" y1="180" x2="706.3" y2="180" stroke="#000" stroke-width="1.5"/>
<line x1="709.7" y1="168.7" x2="709.7" y2="172" stroke="#000" stroke-width="1.3"/>
<rect x="706.9" y="172.6" width="5.6" height="3.8" fill="#fff" stroke="#000" stroke-width="1.3"/>
<line x1="716.4" y1="172.5" x2="716.4" y2="185.8" stroke="#d1123b" stroke-width="1.3"/>
<rect x="713.2" y="176.3" width="6.4" height="6.2" fill="#d1123b"/>
<line x1="723.1" y1="166.3" x2="723.1" y2="172" stroke="#000" stroke-width="1.3"/>
<rect x="720.3" y="172.6" width="5.6" height="8.1" fill="#fff" stroke="#000" stroke-width="1.3"/>
<line x1="729.8" y1="169.2" x2="729.8" y2="179.2" stroke="#d1123b" stroke-width="1.3"/>
<rect x="726.6" y="169.2" width="6.4" height="4.5" fill="#d1123b"/>
<line x1="736.5" y1="182.5" x2="736.5" y2="195" stroke="#d1123b" stroke-width="1.3"/>
<rect x="733.2" y="182.5" width="6.4" height="2.8" fill="#d1123b"/>
<line x1="743.1" y1="190" x2="743.1" y2="191.5" stroke="#d1123b" stroke-width="1.3"/>
<line x1="743.1" y1="194.89999999999998" x2="743.1" y2="200.3" stroke="#d1123b" stroke-width="1.3"/>
<rect x="740.3" y="192.1" width="5.6" height="2.2" fill="#fff" stroke="#d1123b" stroke-width="1.3"/>
<line x1="749.8" y1="195.8" x2="749.8" y2="199.2" stroke="#000" stroke-width="1.3"/>
<rect x="747.0" y="185.9" width="5.6" height="9.3" fill="#fff" stroke="#000" stroke-width="1.3"/>
<line x1="756.5" y1="175.5" x2="756.5" y2="183" stroke="#000" stroke-width="1.3"/>
<line x1="753.2" y1="179.5" x2="759.8" y2="179.5" stroke="#000" stroke-width="2.2"/>
<line x1="763.2" y1="169.2" x2="763.2" y2="176.3" stroke="#000" stroke-width="1.3"/>
<rect x="760.4" y="176.9" width="5.6" height="3.8" fill="#fff" stroke="#000" stroke-width="1.3"/>
<line x1="769.9" y1="159.5" x2="769.9" y2="160.8" stroke="#000" stroke-width="1.3"/>
<line x1="769.9" y1="170.3" x2="769.9" y2="173.3" stroke="#000" stroke-width="1.3"/>
<rect x="767.1" y="161.4" width="5.6" height="8.3" fill="#fff" stroke="#000" stroke-width="1.3"/>
<line x1="776.6" y1="163.7" x2="776.6" y2="172.5" stroke="#d1123b" stroke-width="1.3"/>
<line x1="773.3" y1="165.3" x2="779.9" y2="165.3" stroke="#d1123b" stroke-width="1.5"/>
<line x1="783.3" y1="158.3" x2="783.3" y2="172" stroke="#d1123b" stroke-width="1.3"/>
<rect x="780.1" y="164.7" width="6.4" height="7.3" fill="#d1123b"/>
<line x1="790.0" y1="144.7" x2="790.0" y2="150.3" stroke="#000" stroke-width="1.3"/>
<line x1="790.0" y1="169.7" x2="790.0" y2="171" stroke="#000" stroke-width="1.3"/>
<rect x="787.2" y="150.9" width="5.6" height="18.2" fill="#fff" stroke="#000" stroke-width="1.3"/>
<line x1="796.7" y1="141.7" x2="796.7" y2="143.7" stroke="#000" stroke-width="1.3"/>
<line x1="796.7" y1="149.2" x2="796.7" y2="154.7" stroke="#000" stroke-width="1.3"/>
<rect x="793.9" y="144.3" width="5.6" height="4.3" fill="#fff" stroke="#000" stroke-width="1.3"/>
<line x1="803.4" y1="136.7" x2="803.4" y2="151" stroke="#d1123b" stroke-width="1.3"/>
<rect x="800.1" y="138.3" width="6.4" height="11.7" fill="#d1123b"/>
<line x1="810.0" y1="159.7" x2="810.0" y2="168.3" stroke="#d1123b" stroke-width="1.3"/>
<line x1="806.7" y1="160.8" x2="813.3" y2="160.8" stroke="#d1123b" stroke-width="1.5"/>
<line x1="816.7" y1="149.2" x2="816.7" y2="173.7" stroke="#d1123b" stroke-width="1.3"/>
<rect x="813.5" y="166.3" width="6.4" height="5.0" fill="#d1123b"/>
<line x1="823.4" y1="177" x2="823.4" y2="187" stroke="#d1123b" stroke-width="1.3"/>
<rect x="820.2" y="182.5" width="6.4" height="4.5" fill="#d1123b"/>
<line x1="830.1" y1="168" x2="830.1" y2="168.5" stroke="#000" stroke-width="1.3"/>
<line x1="830.1" y1="171.89999999999998" x2="830.1" y2="176.3" stroke="#000" stroke-width="1.3"/>
<rect x="827.3" y="169.1" width="5.6" height="2.2" fill="#fff" stroke="#000" stroke-width="1.3"/>
<line x1="836.8" y1="168.7" x2="836.8" y2="181.7" stroke="#d1123b" stroke-width="1.3"/>
<rect x="833.6" y="170.3" width="6.4" height="7.2" fill="#d1123b"/>
<rect x="840.7" y="164.3" width="5.6" height="8.4" fill="#fff" stroke="#000" stroke-width="1.3"/>
<line x1="850.2" y1="158" x2="850.2" y2="178" stroke="#d1123b" stroke-width="1.3"/>
<rect x="847.0" y="160.8" width="6.4" height="15.9" fill="#d1123b"/>
<line x1="856.9" y1="185.3" x2="856.9" y2="192.5" stroke="#d1123b" stroke-width="1.3"/>
<rect x="854.1" y="180.6" width="5.6" height="4.1" fill="#fff" stroke="#d1123b" stroke-width="1.3"/>
<line x1="863.6" y1="179.2" x2="863.6" y2="192.5" stroke="#d1123b" stroke-width="1.3"/>
<rect x="860.4" y="180.8" width="6.4" height="10.0" fill="#d1123b"/>
<line x1="870.2" y1="178.3" x2="870.2" y2="180.3" stroke="#000" stroke-width="1.3"/>
<line x1="870.2" y1="184.2" x2="870.2" y2="188.3" stroke="#000" stroke-width="1.3"/>
<rect x="867.5" y="180.9" width="5.6" height="2.7" fill="#fff" stroke="#000" stroke-width="1.3"/>
<line x1="876.9" y1="183.7" x2="876.9" y2="201.7" stroke="#d1123b" stroke-width="1.3"/>
<rect x="873.7" y="185.8" width="6.4" height="12.5" fill="#d1123b"/>
<polyline points="22,451.7 34,451.5 47,449.2 74,449 80,447.5 156.7,447.5 165,448.7 213,448.7 221.7,450 235,450 243,448.8 300,448.8 307.5,447.5 342.5,447.5 350,446.3 367.5,446.3 375,445 390,444.5 405,442.5 425,441.3 445,439.5 465,438 484,438 490,437 520,435.5 545,432.5 570,429.5 595,426.3 620,422.5 645,418.7 660,415 680,410.5 690,408.7 710,403 730,396.3 750,392 770,386.3 790,380 802.5,375.5 820,371.3 835,366.3 850,361.3 865,358 876.5,354.5" fill="none" stroke="#d1123b" stroke-width="1.25" stroke-linejoin="round"/>
<polyline points="22,440.8 34,438.5 47,436 60,433.5 74,431.3 108,431.3 115,433 141,433 148,434.5 153.3,434.2 168.3,436.7 186.7,438.3 203,438.8 220,439.7 235,439.7 250,437.5 256.7,436.3 266.7,434.2 275,433.5 280,432.5 290,429.5 307.5,425 325,422.5 342.5,420 355,418 370,415 387.5,412 400,407.5 412.5,402.5 425,396.3 440,390.5 455,384.5 461.7,382.5 470,380 481.7,375.8 490,374.2 501.7,370.8 521.7,366.7 530,363.5 541.7,358.3 561.7,350.8 581.7,343.7 590,341.7 596.7,340 605,335 620,329.2 630,326.3 641.7,321.7 650,317 663.3,312 673.3,305.8 681.7,300.8 690,297.5 703.3,289.2 715,282 723.3,278.3 730,274.7 740,270.3 747.5,267.5 770,257.5 790,247 802.5,239.5 815,231.3 830,223.7 836.7,221 850,212.5 865,206.3 877.5,203" fill="none" stroke="#1c1c9e" stroke-width="1.3" stroke-linejoin="round"/>
<rect x="22.5" y="617.8" width="1.5" height="2.2" fill="#4fa3d1" stroke="#2b7299" stroke-width="1"/>
<line x1="24.0" y1="620" x2="30.7" y2="620" stroke="#2f7fa8" stroke-width="1"/>
<rect x="30.7" y="618.8" width="6.7" height="1.2" fill="#4fa3d1" stroke="#2b7299" stroke-width="1"/>
<rect x="37.3" y="617.2" width="6.7" height="2.8" fill="#4fa3d1" stroke="#2b7299" stroke-width="1"/>
<rect x="44.0" y="617.2" width="6.7" height="2.8" fill="#4fa3d1" stroke="#2b7299" stroke-width="1"/>
<rect x="50.7" y="620.0" width="6.7" height="1.0" fill="#4fa3d1" stroke="#2b7299" stroke-width="1"/>
<rect x="57.4" y="620.0" width="6.7" height="2.3" fill="#4fa3d1" stroke="#2b7299" stroke-width="1"/>
<rect x="64.1" y="620.0" width="6.7" height="6.0" fill="#4fa3d1" stroke="#2b7299" stroke-width="1"/>
<rect x="70.8" y="620.0" width="6.7" height="8.9" fill="#4fa3d1" stroke="#2b7299" stroke-width="1"/>
<rect x="77.5" y="620.0" width="6.7" height="11.0" fill="#4fa3d1" stroke="#2b7299" stroke-width="1"/>
<rect x="84.2" y="620.0" width="6.7" height="13.0" fill="#4fa3d1" stroke="#2b7299" stroke-width="1"/>
<rect x="90.9" y="620.0" width="6.7" height="12.0" fill="#4fa3d1" stroke="#2b7299" stroke-width="1"/>
<rect x="97.6" y="620.0" width="6.7" height="7.0" fill="#4fa3d1" stroke="#2b7299" stroke-width="1"/>
<rect x="104.2" y="620.0" width="6.7" height="4.3" fill="#4fa3d1" stroke="#2b7299" stroke-width="1"/>
<rect x="110.9" y="620.0" width="6.7" height="2.7" fill="#4fa3d1" stroke="#2b7299" stroke-width="1"/>
<line x1="117.6" y1="620" x2="124.3" y2="620" stroke="#2f7fa8" stroke-width="1"/>
<rect x="124.3" y="620.0" width="6.7" height="2.2" fill="#4fa3d1" stroke="#2b7299" stroke-width="1"/>
<rect x="131.0" y="620.0" width="6.7" height="2.2" fill="#4fa3d1" stroke="#2b7299" stroke-width="1"/>
<line x1="137.7" y1="620" x2="144.4" y2="620" stroke="#2f7fa8" stroke-width="1"/>
<line x1="144.4" y1="620" x2="151.1" y2="620" stroke="#2f7fa8" stroke-width="1"/>
<rect x="151.1" y="620.0" width="6.7" height="2.7" fill="#4fa3d1" stroke="#2b7299" stroke-width="1"/>
<rect x="157.8" y="620.0" width="6.7" height="1.5" fill="#4fa3d1" stroke="#2b7299" stroke-width="1"/>
<rect x="164.5" y="619.0" width="6.7" height="1.0" fill="#4fa3d1" stroke="#2b7299" stroke-width="1"/>
<rect x="171.1" y="619.0" width="6.7" height="1.0" fill="#4fa3d1" stroke="#2b7299" stroke-width="1"/>
<rect x="177.8" y="618.0" width="6.7" height="2.0" fill="#4fa3d1" stroke="#2b7299" stroke-width="1"/>
<rect x="184.5" y="616.3" width="6.7" height="3.7" fill="#4fa3d1" stroke="#2b7299" stroke-width="1"/>
<rect x="191.2" y="616.3" width="6.7" height="3.7" fill="#4fa3d1" stroke="#2b7299" stroke-width="1"/>
<rect x="197.9" y="615.0" width="6.7" height="5.0" fill="#4fa3d1" stroke="#2b7299" stroke-width="1"/>
<rect x="204.6" y="613.0" width="6.7" height="7.0" fill="#4fa3d1" stroke="#2b7299" stroke-width="1"/>
<rect x="211.3" y="614.5" width="6.7" height="5.5" fill="#4fa3d1" stroke="#2b7299" stroke-width="1"/>
<rect x="218.0" y="611.2" width="6.7" height="8.8" fill="#4fa3d1" stroke="#2b7299" stroke-width="1"/>
<rect x="224.7" y="608.4" width="6.7" height="11.6" fill="#4fa3d1" stroke="#2b7299" stroke-width="1"/>
<rect x="231.4" y="606.3" width="6.7" height="13.7" fill="#4fa3d1" stroke="#2b7299" stroke-width="1"/>
<rect x="238.0" y="606.0" width="6.7" height="14.0" fill="#4fa3d1" stroke="#2b7299" stroke-width="1"/>
<rect x="244.7" y="605.1" width="6.7" height="14.9" fill="#4fa3d1" stroke="#2b7299" stroke-width="1"/>
<rect x="251.4" y="603.1" width="6.7" height="16.9" fill="#4fa3d1" stroke="#2b7299" stroke-width="1"/>
<rect x="258.1" y="604.6" width="6.7" height="15.4" fill="#4fa3d1" stroke="#2b7299" stroke-width="1"/>
<rect x="264.8" y="607.4" width="6.7" height="12.6" fill="#4fa3d1" stroke="#2b7299" stroke-width="1"/>
<rect x="271.5" y="611.6" width="6.7" height="8.4" fill="#4fa3d1" stroke="#2b7299" stroke-width="1"/>
<rect x="278.2" y="612.5" width="6.7" height="7.5" fill="#4fa3d1" stroke="#2b7299" stroke-width="1"/>
<rect x="284.9" y="611.6" width="6.7" height="8.4" fill="#4fa3d1" stroke="#2b7299" stroke-width="1"/>
<rect x="291.6" y="611.6" width="6.7" height="8.4" fill="#4fa3d1" stroke="#2b7299" stroke-width="1"/>
<rect x="298.3" y="611.6" width="6.7" height="8.4" fill="#4fa3d1" stroke="#2b7299" stroke-width="1"/>
<rect x="304.9" y="615.5" width="6.7" height="4.5" fill="#4fa3d1" stroke="#2b7299" stroke-width="1"/>
<line x1="311.6" y1="620" x2="318.3" y2="620" stroke="#2f7fa8" stroke-width="1"/>
<line x1="318.3" y1="620" x2="325.0" y2="620" stroke="#2f7fa8" stroke-width="1"/>
<rect x="325.0" y="619.2" width="6.7" height="0.8" fill="#4fa3d1" stroke="#2b7299" stroke-width="1"/>
<rect x="331.7" y="620.0" width="6.7" height="0.9" fill="#4fa3d1" stroke="#2b7299" stroke-width="1"/>
<rect x="338.4" y="620.0" width="6.7" height="1.7" fill="#4fa3d1" stroke="#2b7299" stroke-width="1"/>
<rect x="345.1" y="620.0" width="6.7" height="2.0" fill="#4fa3d1" stroke="#2b7299" stroke-width="1"/>
<rect x="351.8" y="620.0" width="6.7" height="2.8" fill="#4fa3d1" stroke="#2b7299" stroke-width="1"/>
<rect x="358.5" y="620.0" width="6.7" height="4.2" fill="#4fa3d1" stroke="#2b7299" stroke-width="1"/>
<rect x="365.2" y="620.0" width="6.7" height="3.1" fill="#4fa3d1" stroke="#2b7299" stroke-width="1"/>
<rect x="371.8" y="619.2" width="6.7" height="0.8" fill="#4fa3d1" stroke="#2b7299" stroke-width="1"/>
<rect x="378.5" y="617.9" width="6.7" height="2.1" fill="#4fa3d1" stroke="#2b7299" stroke-width="1"/>
<rect x="385.2" y="616.6" width="6.7" height="3.4" fill="#4fa3d1" stroke="#2b7299" stroke-width="1"/>
<rect x="391.9" y="615.4" width="6.7" height="4.6" fill="#4fa3d1" stroke="#2b7299" stroke-width="1"/>
<rect x="398.6" y="613.5" width="6.7" height="6.5" fill="#4fa3d1" stroke="#2b7299" stroke-width="1"/>
<rect x="405.3" y="614.1" width="6.7" height="5.9" fill="#4fa3d1" stroke="#2b7299" stroke-width="1"/>
<rect x="412.0" y="615.0" width="6.7" height="5.0" fill="#4fa3d1" stroke="#2b7299" stroke-width="1"/>
<rect x="418.7" y="614.1" width="6.7" height="5.9" fill="#4fa3d1" stroke="#2b7299" stroke-width="1"/>
<rect x="425.4" y="614.2" width="6.7" height="5.8" fill="#4fa3d1" stroke="#2b7299" stroke-width="1"/>
<rect x="432.1" y="617.2" width="6.7" height="2.8" fill="#4fa3d1" stroke="#2b7299" stroke-width="1"/>
<line x1="438.7" y1="620" x2="445.4" y2="620" stroke="#2f7fa8" stroke-width="1"/>
<rect x="445.4" y="620.0" width="6.7" height="3.7" fill="#4fa3d1" stroke="#2b7299" stroke-width="1"/>
<rect x="452.1" y="620.0" width="6.7" height="4.3" fill="#4fa3d1" stroke="#2b7299" stroke-width="1"/>
<rect x="458.8" y="620.0" width="6.7" height="4.5" fill="#4fa3d1" stroke="#2b7299" stroke-width="1"/>
<rect x="465.5" y="620.0" width="6.7" height="5.2" fill="#4fa3d1" stroke="#2b7299" stroke-width="1"/>
<rect x="472.2" y="620.0" width="6.7" height="9.7" fill="#4fa3d1" stroke="#2b7299" stroke-width="1"/>
<rect x="478.9" y="620.0" width="6.7" height="14.8" fill="#4fa3d1" stroke="#2b7299" stroke-width="1"/>
<rect x="485.6" y="620.0" width="6.7" height="13.9" fill="#4fa3d1" stroke="#2b7299" stroke-width="1"/>
<rect x="492.3" y="620.0" width="6.7" height="15.1" fill="#4fa3d1" stroke="#2b7299" stroke-width="1"/>
<rect x="499.0" y="620.0" width="6.7" height="16.6" fill="#4fa3d1" stroke="#2b7299" stroke-width="1"/>
<rect x="505.6" y="620.0" width="6.7" height="16.0" fill="#4fa3d1" stroke="#2b7299" stroke-width="1"/>
<rect x="512.3" y="620.0" width="6.7" height="11.9" fill="#4fa3d1" stroke="#2b7299" stroke-width="1"/>
<rect x="519.0" y="620.0" width="6.7" height="6.9" fill="#4fa3d1" stroke="#2b7299" stroke-width="1"/>
<rect x="525.7" y="620.0" width="6.7" height="2.3" fill="#4fa3d1" stroke="#2b7299" stroke-width="1"/>
<rect x="532.4" y="617.6" width="6.7" height="2.4" fill="#4fa3d1" stroke="#2b7299" stroke-width="1"/>
<rect x="539.1" y="613.0" width="6.7" height="7.0" fill="#4fa3d1" stroke="#2b7299" stroke-width="1"/>
<rect x="545.8" y="608.7" width="6.7" height="11.3" fill="#4fa3d1" stroke="#2b7299" stroke-width="1"/>
<rect x="552.5" y="605.0" width="6.7" height="15.0" fill="#4fa3d1" stroke="#2b7299" stroke-width="1"/>
<rect x="559.2" y="604.2" width="6.7" height="15.8" fill="#4fa3d1" stroke="#2b7299" stroke-width="1"/>
<rect x="565.9" y="605.9" width="6.7" height="14.1" fill="#4fa3d1" stroke="#2b7299" stroke-width="1"/>
<rect x="572.5" y="603.2" width="6.7" height="16.8" fill="#4fa3d1" stroke="#2b7299" stroke-width="1"/>
<rect x="579.2" y="600.5" width="6.7" height="19.5" fill="#4fa3d1" stroke="#2b7299" stroke-width="1"/>
<rect x="585.9" y="601.9" width="6.7" height="18.1" fill="#4fa3d1" stroke="#2b7299" stroke-width="1"/>
<rect x="592.6" y="603.8" width="6.7" height="16.2" fill="#4fa3d1" stroke="#2b7299" stroke-width="1"/>
<rect x="599.3" y="602.5" width="6.7" height="17.5" fill="#4fa3d1" stroke="#2b7299" stroke-width="1"/>
<rect x="606.0" y="601.5" width="6.7" height="18.5" fill="#4fa3d1" stroke="#2b7299" stroke-width="1"/>
<rect x="612.7" y="606.8" width="6.7" height="13.2" fill="#4fa3d1" stroke="#2b7299" stroke-width="1"/>
<rect x="619.4" y="611.5" width="6.7" height="8.5" fill="#4fa3d1" stroke="#2b7299" stroke-width="1"/>
<rect x="626.1" y="615.6" width="6.7" height="4.4" fill="#4fa3d1" stroke="#2b7299" stroke-width="1"/>
<rect x="632.8" y="617.7" width="6.7" height="2.3" fill="#4fa3d1" stroke="#2b7299" stroke-width="1"/>
<line x1="639.4" y1="620" x2="646.1" y2="620" stroke="#2f7fa8" stroke-width="1"/>
<rect x="646.1" y="615.3" width="6.7" height="4.7" fill="#4fa3d1" stroke="#2b7299" stroke-width="1"/>
<rect x="652.8" y="611.6" width="6.7" height="8.4" fill="#4fa3d1" stroke="#2b7299" stroke-width="1"/>
<rect x="659.5" y="609.7" width="6.7" height="10.3" fill="#4fa3d1" stroke="#2b7299" stroke-width="1"/>
<rect x="666.2" y="608.6" width="6.7" height="11.4" fill="#4fa3d1" stroke="#2b7299" stroke-width="1"/>
<rect x="672.9" y="606.2" width="6.7" height="13.8" fill="#4fa3d1" stroke="#2b7299" stroke-width="1"/>
<rect x="679.6" y="607.5" width="6.7" height="12.5" fill="#4fa3d1" stroke="#2b7299" stroke-width="1"/>
<rect x="686.3" y="611.8" width="6.7" height="8.2" fill="#4fa3d1" stroke="#2b7299" stroke-width="1"/>
<rect x="693.0" y="610.6" width="6.7" height="9.4" fill="#4fa3d1" stroke="#2b7299" stroke-width="1"/>
<rect x="699.7" y="610.6" width="6.7" height="9.4" fill="#4fa3d1" stroke="#2b7299" stroke-width="1"/>
<rect x="706.3" y="609.3" width="6.7" height="10.7" fill="#4fa3d1" stroke="#2b7299" stroke-width="1"/>
<rect x="713.0" y="611.9" width="6.7" height="8.1" fill="#4fa3d1" stroke="#2b7299" stroke-width="1"/>
<rect x="719.7" y="613.8" width="6.7" height="6.2" fill="#4fa3d1" stroke="#2b7299" stroke-width="1"/>
<rect x="726.4" y="615.5" width="6.7" height="4.5" fill="#4fa3d1" stroke="#2b7299" stroke-width="1"/>
<rect x="733.1" y="620.0" width="6.7" height="0.7" fill="#4fa3d1" stroke="#2b7299" stroke-width="1"/>
<rect x="739.8" y="620.0" width="6.7" height="5.1" fill="#4fa3d1" stroke="#2b7299" stroke-width="1"/>
<rect x="746.5" y="620.0" width="6.7" height="6.5" fill="#4fa3d1" stroke="#2b7299" stroke-width="1"/>
<rect x="753.2" y="620.0" width="6.7" height="7.2" fill="#4fa3d1" stroke="#2b7299" stroke-width="1"/>
<rect x="759.9" y="620.0" width="6.7" height="7.2" fill="#4fa3d1" stroke="#2b7299" stroke-width="1"/>
<rect x="766.6" y="620.0" width="6.7" height="5.0" fill="#4fa3d1" stroke="#2b7299" stroke-width="1"/>
<rect x="773.2" y="620.0" width="6.7" height="5.1" fill="#4fa3d1" stroke="#2b7299" stroke-width="1"/>
<rect x="779.9" y="620.0" width="6.7" height="6.3" fill="#4fa3d1" stroke="#2b7299" stroke-width="1"/>
<rect x="786.6" y="620.0" width="6.7" height="2.5" fill="#4fa3d1" stroke="#2b7299" stroke-width="1"/>
<rect x="793.3" y="619.4" width="6.7" height="0.6" fill="#4fa3d1" stroke="#2b7299" stroke-width="1"/>
<line x1="800.0" y1="620" x2="806.7" y2="620" stroke="#2f7fa8" stroke-width="1"/>
<rect x="806.7" y="620.0" width="6.7" height="3.9" fill="#4fa3d1" stroke="#2b7299" stroke-width="1"/>
<rect x="813.4" y="620.0" width="6.7" height="10.0" fill="#4fa3d1" stroke="#2b7299" stroke-width="1"/>
<rect x="820.1" y="620.0" width="6.7" height="15.2" fill="#4fa3d1" stroke="#2b7299" stroke-width="1"/>
<rect x="826.8" y="620.0" width="6.7" height="15.6" fill="#4fa3d1" stroke="#2b7299" stroke-width="1"/>
<rect x="833.5" y="620.0" width="6.7" height="15.5" fill="#4fa3d1" stroke="#2b7299" stroke-width="1"/>
<rect x="840.1" y="620.0" width="6.7" height="13.7" fill="#4fa3d1" stroke="#2b7299" stroke-width="1"/>
<rect x="846.8" y="620.0" width="6.7" height="15.0" fill="#4fa3d1" stroke="#2b7299" stroke-width="1"/>
<rect x="853.5" y="620.0" width="6.7" height="16.4" fill="#4fa3d1" stroke="#2b7299" stroke-width="1"/>
<rect x="860.2" y="620.0" width="6.7" height="17.9" fill="#4fa3d1" stroke="#2b7299" stroke-width="1"/>
<rect x="866.9" y="620.0" width="6.7" height="18.9" fill="#4fa3d1" stroke="#2b7299" stroke-width="1"/>
<rect x="873.6" y="620.0" width="6.7" height="19.8" fill="#4fa3d1" stroke="#2b7299" stroke-width="1"/>
<polyline points="22.5,613 34,612.5 47.5,610.8 54,612 64,612.5 74,615.8 87.5,621.3 101,626.7 116.7,628.3 138,629.7 160,632 180,632 195,630 215,625 235,616.3 250,607.5 265,600 280,594.5 295,589.5 307.5,587 320,585.7 335,586.3 350,588.7 365,590.5 375,591.3 382.5,590.5 395,589.5 415,585.5 430,582.5 447.5,582.5 462.5,585 475,587.5 487.5,595 500,601.3 512.5,608.7 520,611.3 530,612 540,610 550,605.5 562.5,599.5 572.5,594.5 582.5,587.5 590,582.5 602.5,572.5 615,565.5 627.5,562.5 640,561.7 650,561.3 665,557 677.5,550 690,546.3 702.5,541.3 710,538.3 722.5,535 732.5,533.7 742.5,535 752.5,538 762.5,541.3 772.5,543 785,545.7 797.5,547 809.5,546 817.5,548.7 823,551 837,560.5 856,572 876.5,584.7" fill="none" stroke="#f00" stroke-width="1.4" stroke-linejoin="round"/>
<polyline points="22.5,610.8 27.5,613 34,611.3 41,608.7 47.5,608 54,613 61,614.7 67.5,619.7 74,624.7 83,630 90,634 110,640 150,638 175,630 190,625 205,621.5 215,619.5 225,610 235,602.5 245,596.3 255,588 265,585.5 275,588 282.5,586.3 290,582.5 301,579.5 307.5,582 315,586.3 327.5,585 340,588.7 352.5,591.3 362.5,594.5 370,593.7 375,590.5 385,587.5 395,585 402.5,581.3 415,580.5 422.5,578 428.7,577 437.5,580.5 450,587 467.5,590.5 473.7,595 482.5,607 490,610 500,617.5 505,621.3 510,623 517.5,621.3 530,613.7 540,604.5 550,593.7 556,587.5 562.5,583.7 568.7,582.5 577.5,573.7 582.5,568 590,564.5 595,562.5 602.5,555 608.7,550 617.5,552.5 627.5,557.5 642.5,561.3 650,556.3 657.5,550 667.5,545 676,537 682.5,535.7 688.7,538.7 696,534.5 702.5,532 710,527.5 717.5,528.7 728.7,528.7 735,533.7 742.5,540 752.5,545 762.5,548.7 770,547.5 776,548.7 782.5,552 790,548.7 796,546.3 803.7,546.3 810,550 816,557.5 823,566.2 836,575.7 842,577 852.4,585.2 863.8,594.8 876.5,604.5" fill="none" stroke="#000" stroke-width="2.0" stroke-linejoin="round"/>
<line x1="22.2" y1="0" x2="22.2" y2="500.3" stroke="#c0c0c0" stroke-width="1.7"/>
<line x1="886.0" y1="0" x2="886.0" y2="500.3" stroke="#c0c0c0" stroke-width="1.7"/>
<line x1="22.2" y1="517.9" x2="22.2" y2="630" stroke="#c0c0c0" stroke-width="1.7"/>
<line x1="886.0" y1="517.9" x2="886.0" y2="630" stroke="#c0c0c0" stroke-width="1.7"/>
<line x1="21.4" y1="499.5" x2="887.1" y2="499.5" stroke="#c0c0c0" stroke-width="1.7"/>
<line x1="21.4" y1="518.7" x2="887.1" y2="518.7" stroke="#c0c0c0" stroke-width="1.7"/>
<line x1="22.2" y1="127.7" x2="886.3" y2="127.7" stroke="#c4c4c4" stroke-width="1.5"/>
<g shape-rendering="crispEdges">
<line x1="27.5" y1="500" x2="27.5" y2="501.5" stroke="#cfcfcf" stroke-width="1"/>
<line x1="27.5" y1="516.5" x2="27.5" y2="518" stroke="#cfcfcf" stroke-width="1"/>
<line x1="33.5" y1="500" x2="33.5" y2="503" stroke="#cfcfcf" stroke-width="1"/>
<line x1="33.5" y1="515" x2="33.5" y2="518" stroke="#cfcfcf" stroke-width="1"/>
<line x1="40.5" y1="500" x2="40.5" y2="501.5" stroke="#cfcfcf" stroke-width="1"/>
<line x1="40.5" y1="516.5" x2="40.5" y2="518" stroke="#cfcfcf" stroke-width="1"/>
<line x1="47.5" y1="500" x2="47.5" y2="501.5" stroke="#cfcfcf" stroke-width="1"/>
<line x1="47.5" y1="516.5" x2="47.5" y2="518" stroke="#cfcfcf" stroke-width="1"/>
<line x1="53.5" y1="500" x2="53.5" y2="501.5" stroke="#cfcfcf" stroke-width="1"/>
<line x1="53.5" y1="516.5" x2="53.5" y2="518" stroke="#cfcfcf" stroke-width="1"/>
<line x1="60.5" y1="500" x2="60.5" y2="503" stroke="#cfcfcf" stroke-width="1"/>
<line x1="60.5" y1="515" x2="60.5" y2="518" stroke="#cfcfcf" stroke-width="1"/>
<line x1="67.5" y1="500" x2="67.5" y2="501.5" stroke="#cfcfcf" stroke-width="1"/>
<line x1="67.5" y1="516.5" x2="67.5" y2="518" stroke="#cfcfcf" stroke-width="1"/>
<line x1="73.5" y1="500" x2="73.5" y2="503" stroke="#cfcfcf" stroke-width="1"/>
<line x1="73.5" y1="515" x2="73.5" y2="518" stroke="#cfcfcf" stroke-width="1"/>
<line x1="80.5" y1="500" x2="80.5" y2="501.5" stroke="#cfcfcf" stroke-width="1"/>
<line x1="80.5" y1="516.5" x2="80.5" y2="518" stroke="#cfcfcf" stroke-width="1"/>
<line x1="87.5" y1="500" x2="87.5" y2="501.5" stroke="#cfcfcf" stroke-width="1"/>
<line x1="87.5" y1="516.5" x2="87.5" y2="518" stroke="#cfcfcf" stroke-width="1"/>
<line x1="93.5" y1="500" x2="93.5" y2="503" stroke="#cfcfcf" stroke-width="1"/>
<line x1="93.5" y1="515" x2="93.5" y2="518" stroke="#cfcfcf" stroke-width="1"/>
<line x1="100.5" y1="500" x2="100.5" y2="501.5" stroke="#cfcfcf" stroke-width="1"/>
<line x1="100.5" y1="516.5" x2="100.5" y2="518" stroke="#cfcfcf" stroke-width="1"/>
<line x1="107.5" y1="500" x2="107.5" y2="501.5" stroke="#cfcfcf" stroke-width="1"/>
<line x1="107.5" y1="516.5" x2="107.5" y2="518" stroke="#cfcfcf" stroke-width="1"/>
<line x1="113.5" y1="500" x2="113.5" y2="501.5" stroke="#cfcfcf" stroke-width="1"/>
<line x1="113.5" y1="516.5" x2="113.5" y2="518" stroke="#cfcfcf" stroke-width="1"/>
<line x1="120.5" y1="500" x2="120.5" y2="501.5" stroke="#cfcfcf" stroke-width="1"/>
<line x1="120.5" y1="516.5" x2="120.5" y2="518" stroke="#cfcfcf" stroke-width="1"/>
<line x1="127.5" y1="500" x2="127.5" y2="503" stroke="#cfcfcf" stroke-width="1"/>
<line x1="127.5" y1="515" x2="127.5" y2="518" stroke="#cfcfcf" stroke-width="1"/>
<line x1="134.5" y1="500" x2="134.5" y2="501.5" stroke="#cfcfcf" stroke-width="1"/>
<line x1="134.5" y1="516.5" x2="134.5" y2="518" stroke="#cfcfcf" stroke-width="1"/>
<line x1="140.5" y1="500" x2="140.5" y2="501.5" stroke="#cfcfcf" stroke-width="1"/>
<line x1="140.5" y1="516.5" x2="140.5" y2="518" stroke="#cfcfcf" stroke-width="1"/>
<line x1="147.5" y1="500" x2="147.5" y2="501.5" stroke="#cfcfcf" stroke-width="1"/>
<line x1="147.5" y1="516.5" x2="147.5" y2="518" stroke="#cfcfcf" stroke-width="1"/>
<line x1="154.5" y1="500" x2="154.5" y2="501.5" stroke="#cfcfcf" stroke-width="1"/>
<line x1="154.5" y1="516.5" x2="154.5" y2="518" stroke="#cfcfcf" stroke-width="1"/>
<line x1="160.5" y1="500" x2="160.5" y2="503" stroke="#cfcfcf" stroke-width="1"/>
<line x1="160.5" y1="515" x2="160.5" y2="518" stroke="#cfcfcf" stroke-width="1"/>
<line x1="167.5" y1="500" x2="167.5" y2="501.5" stroke="#cfcfcf" stroke-width="1"/>
<line x1="167.5" y1="516.5" x2="167.5" y2="518" stroke="#cfcfcf" stroke-width="1"/>
<line x1="174.5" y1="500" x2="174.5" y2="501.5" stroke="#cfcfcf" stroke-width="1"/>
<line x1="174.5" y1="516.5" x2="174.5" y2="518" stroke="#cfcfcf" stroke-width="1"/>
<line x1="180.5" y1="500" x2="180.5" y2="501.5" stroke="#cfcfcf" stroke-width="1"/>
<line x1="180.5" y1="516.5" x2="180.5" y2="518" stroke="#cfcfcf" stroke-width="1"/>
<line x1="187.5" y1="500" x2="187.5" y2="503" stroke="#cfcfcf" stroke-width="1"/>
<line x1="187.5" y1="515" x2="187.5" y2="518" stroke="#cfcfcf" stroke-width="1"/>
<line x1="194.5" y1="500" x2="194.5" y2="501.5" stroke="#cfcfcf" stroke-width="1"/>
<line x1="194.5" y1="516.5" x2="194.5" y2="518" stroke="#cfcfcf" stroke-width="1"/>
<line x1="200.5" y1="500" x2="200.5" y2="501.5" stroke="#cfcfcf" stroke-width="1"/>
<line x1="200.5" y1="516.5" x2="200.5" y2="518" stroke="#cfcfcf" stroke-width="1"/>
<line x1="207.5" y1="500" x2="207.5" y2="501.5" stroke="#cfcfcf" stroke-width="1"/>
<line x1="207.5" y1="516.5" x2="207.5" y2="518" stroke="#cfcfcf" stroke-width="1"/>
<line x1="214.5" y1="500" x2="214.5" y2="501.5" stroke="#cfcfcf" stroke-width="1"/>
<line x1="214.5" y1="516.5" x2="214.5" y2="518" stroke="#cfcfcf" stroke-width="1"/>
<line x1="221.5" y1="500" x2="221.5" y2="503" stroke="#cfcfcf" stroke-width="1"/>
<line x1="221.5" y1="515" x2="221.5" y2="518" stroke="#cfcfcf" stroke-width="1"/>
<line x1="227.5" y1="500" x2="227.5" y2="501.5" stroke="#cfcfcf" stroke-width="1"/>
<line x1="227.5" y1="516.5" x2="227.5" y2="518" stroke="#cfcfcf" stroke-width="1"/>
<line x1="234.5" y1="500" x2="234.5" y2="501.5" stroke="#cfcfcf" stroke-width="1"/>
<line x1="234.5" y1="516.5" x2="234.5" y2="518" stroke="#cfcfcf" stroke-width="1"/>
<line x1="241.5" y1="500" x2="241.5" y2="501.5" stroke="#cfcfcf" stroke-width="1"/>
<line x1="241.5" y1="516.5" x2="241.5" y2="518" stroke="#cfcfcf" stroke-width="1"/>
<line x1="247.5" y1="500" x2="247.5" y2="501.5" stroke="#cfcfcf" stroke-width="1"/>
<line x1="247.5" y1="516.5" x2="247.5" y2="518" stroke="#cfcfcf" stroke-width="1"/>
<line x1="254.5" y1="500" x2="254.5" y2="503" stroke="#cfcfcf" stroke-width="1"/>
<line x1="254.5" y1="515" x2="254.5" y2="518" stroke="#cfcfcf" stroke-width="1"/>
<line x1="261.5" y1="500" x2="261.5" y2="501.5" stroke="#cfcfcf" stroke-width="1"/>
<line x1="261.5" y1="516.5" x2="261.5" y2="518" stroke="#cfcfcf" stroke-width="1"/>
<line x1="267.5" y1="500" x2="267.5" y2="501.5" stroke="#cfcfcf" stroke-width="1"/>
<line x1="267.5" y1="516.5" x2="267.5" y2="518" stroke="#cfcfcf" stroke-width="1"/>
<line x1="274.5" y1="500" x2="274.5" y2="501.5" stroke="#cfcfcf" stroke-width="1"/>
<line x1="274.5" y1="516.5" x2="274.5" y2="518" stroke="#cfcfcf" stroke-width="1"/>
<line x1="281.5" y1="500" x2="281.5" y2="501.5" stroke="#cfcfcf" stroke-width="1"/>
<line x1="281.5" y1="516.5" x2="281.5" y2="518" stroke="#cfcfcf" stroke-width="1"/>
<line x1="287.5" y1="500" x2="287.5" y2="503" stroke="#cfcfcf" stroke-width="1"/>
<line x1="287.5" y1="515" x2="287.5" y2="518" stroke="#cfcfcf" stroke-width="1"/>
<line x1="294.5" y1="500" x2="294.5" y2="501.5" stroke="#cfcfcf" stroke-width="1"/>
<line x1="294.5" y1="516.5" x2="294.5" y2="518" stroke="#cfcfcf" stroke-width="1"/>
<line x1="301.5" y1="500" x2="301.5" y2="501.5" stroke="#cfcfcf" stroke-width="1"/>
<line x1="301.5" y1="516.5" x2="301.5" y2="518" stroke="#cfcfcf" stroke-width="1"/>
<line x1="307.5" y1="500" x2="307.5" y2="501.5" stroke="#cfcfcf" stroke-width="1"/>
<line x1="307.5" y1="516.5" x2="307.5" y2="518" stroke="#cfcfcf" stroke-width="1"/>
<line x1="314.5" y1="500" x2="314.5" y2="503" stroke="#cfcfcf" stroke-width="1"/>
<line x1="314.5" y1="515" x2="314.5" y2="518" stroke="#cfcfcf" stroke-width="1"/>
<line x1="321.5" y1="500" x2="321.5" y2="501.5" stroke="#cfcfcf" stroke-width="1"/>
<line x1="321.5" y1="516.5" x2="321.5" y2="518" stroke="#cfcfcf" stroke-width="1"/>
<line x1="328.5" y1="500" x2="328.5" y2="501.5" stroke="#cfcfcf" stroke-width="1"/>
<line x1="328.5" y1="516.5" x2="328.5" y2="518" stroke="#cfcfcf" stroke-width="1"/>
<line x1="334.5" y1="500" x2="334.5" y2="501.5" stroke="#cfcfcf" stroke-width="1"/>
<line x1="334.5" y1="516.5" x2="334.5" y2="518" stroke="#cfcfcf" stroke-width="1"/>
<line x1="341.5" y1="500" x2="341.5" y2="501.5" stroke="#cfcfcf" stroke-width="1"/>
<line x1="341.5" y1="516.5" x2="341.5" y2="518" stroke="#cfcfcf" stroke-width="1"/>
<line x1="348.5" y1="500" x2="348.5" y2="503" stroke="#cfcfcf" stroke-width="1"/>
<line x1="348.5" y1="515" x2="348.5" y2="518" stroke="#cfcfcf" stroke-width="1"/>
<line x1="354.5" y1="500" x2="354.5" y2="503" stroke="#cfcfcf" stroke-width="1"/>
<line x1="354.5" y1="515" x2="354.5" y2="518" stroke="#cfcfcf" stroke-width="1"/>
<line x1="361.5" y1="500" x2="361.5" y2="501.5" stroke="#cfcfcf" stroke-width="1"/>
<line x1="361.5" y1="516.5" x2="361.5" y2="518" stroke="#cfcfcf" stroke-width="1"/>
<line x1="368.5" y1="500" x2="368.5" y2="501.5" stroke="#cfcfcf" stroke-width="1"/>
<line x1="368.5" y1="516.5" x2="368.5" y2="518" stroke="#cfcfcf" stroke-width="1"/>
<line x1="374.5" y1="500" x2="374.5" y2="501.5" stroke="#cfcfcf" stroke-width="1"/>
<line x1="374.5" y1="516.5" x2="374.5" y2="518" stroke="#cfcfcf" stroke-width="1"/>
<line x1="381.5" y1="500" x2="381.5" y2="503" stroke="#cfcfcf" stroke-width="1"/>
<line x1="381.5" y1="515" x2="381.5" y2="518" stroke="#cfcfcf" stroke-width="1"/>
<line x1="388.5" y1="500" x2="388.5" y2="501.5" stroke="#cfcfcf" stroke-width="1"/>
<line x1="388.5" y1="516.5" x2="388.5" y2="518" stroke="#cfcfcf" stroke-width="1"/>
<line x1="394.5" y1="500" x2="394.5" y2="501.5" stroke="#cfcfcf" stroke-width="1"/>
<line x1="394.5" y1="516.5" x2="394.5" y2="518" stroke="#cfcfcf" stroke-width="1"/>
<line x1="401.5" y1="500" x2="401.5" y2="501.5" stroke="#cfcfcf" stroke-width="1"/>
<line x1="401.5" y1="516.5" x2="401.5" y2="518" stroke="#cfcfcf" stroke-width="1"/>
<line x1="408.5" y1="500" x2="408.5" y2="501.5" stroke="#cfcfcf" stroke-width="1"/>
<line x1="408.5" y1="516.5" x2="408.5" y2="518" stroke="#cfcfcf" stroke-width="1"/>
<line x1="415.5" y1="500" x2="415.5" y2="503" stroke="#cfcfcf" stroke-width="1"/>
<line x1="415.5" y1="515" x2="415.5" y2="518" stroke="#cfcfcf" stroke-width="1"/>
<line x1="421.5" y1="500" x2="421.5" y2="501.5" stroke="#cfcfcf" stroke-width="1"/>
<line x1="421.5" y1="516.5" x2="421.5" y2="518" stroke="#cfcfcf" stroke-width="1"/>
<line x1="428.5" y1="500" x2="428.5" y2="501.5" stroke="#cfcfcf" stroke-width="1"/>
<line x1="428.5" y1="516.5" x2="428.5" y2="518" stroke="#cfcfcf" stroke-width="1"/>
<line x1="435.5" y1="500" x2="435.5" y2="501.5" stroke="#cfcfcf" stroke-width="1"/>
<line x1="435.5" y1="516.5" x2="435.5" y2="518" stroke="#cfcfcf" stroke-width="1"/>
<line x1="441.5" y1="500" x2="441.5" y2="501.5" stroke="#cfcfcf" stroke-width="1"/>
<line x1="441.5" y1="516.5" x2="441.5" y2="518" stroke="#cfcfcf" stroke-width="1"/>
<line x1="448.5" y1="500" x2="448.5" y2="503" stroke="#cfcfcf" stroke-width="1"/>
<line x1="448.5" y1="515" x2="448.5" y2="518" stroke="#cfcfcf" stroke-width="1"/>
<line x1="455.5" y1="500" x2="455.5" y2="501.5" stroke="#cfcfcf" stroke-width="1"/>
<line x1="455.5" y1="516.5" x2="455.5" y2="518" stroke="#cfcfcf" stroke-width="1"/>
<line x1="461.5" y1="500" x2="461.5" y2="501.5" stroke="#cfcfcf" stroke-width="1"/>
<line x1="461.5" y1="516.5" x2="461.5" y2="518" stroke="#cfcfcf" stroke-width="1"/>
<line x1="468.5" y1="500" x2="468.5" y2="501.5" stroke="#cfcfcf" stroke-width="1"/>
<line x1="468.5" y1="516.5" x2="468.5" y2="518" stroke="#cfcfcf" stroke-width="1"/>
<line x1="475.5" y1="500" x2="475.5" y2="503" stroke="#cfcfcf" stroke-width="1"/>
<line x1="475.5" y1="515" x2="475.5" y2="518" stroke="#cfcfcf" stroke-width="1"/>
<line x1="481.5" y1="500" x2="481.5" y2="503" stroke="#cfcfcf" stroke-width="1"/>
<line x1="481.5" y1="515" x2="481.5" y2="518" stroke="#cfcfcf" stroke-width="1"/>
<line x1="488.5" y1="500" x2="488.5" y2="501.5" stroke="#cfcfcf" stroke-width="1"/>
<line x1="488.5" y1="516.5" x2="488.5" y2="518" stroke="#cfcfcf" stroke-width="1"/>
<line x1="495.5" y1="500" x2="495.5" y2="501.5" stroke="#cfcfcf" stroke-width="1"/>
<line x1="495.5" y1="516.5" x2="495.5" y2="518" stroke="#cfcfcf" stroke-width="1"/>
<line x1="502.5" y1="500" x2="502.5" y2="501.5" stroke="#cfcfcf" stroke-width="1"/>
<line x1="502.5" y1="516.5" x2="502.5" y2="518" stroke="#cfcfcf" stroke-width="1"/>
<line x1="508.5" y1="500" x2="508.5" y2="503" stroke="#cfcfcf" stroke-width="1"/>
<line x1="508.5" y1="515" x2="508.5" y2="518" stroke="#cfcfcf" stroke-width="1"/>
<line x1="515.5" y1="500" x2="515.5" y2="501.5" stroke="#cfcfcf" stroke-width="1"/>
<line x1="515.5" y1="516.5" x2="515.5" y2="518" stroke="#cfcfcf" stroke-width="1"/>
<line x1="522.5" y1="500" x2="522.5" y2="501.5" stroke="#cfcfcf" stroke-width="1"/>
<line x1="522.5" y1="516.5" x2="522.5" y2="518" stroke="#cfcfcf" stroke-width="1"/>
<line x1="528.5" y1="500" x2="528.5" y2="501.5" stroke="#cfcfcf" stroke-width="1"/>
<line x1="528.5" y1="516.5" x2="528.5" y2="518" stroke="#cfcfcf" stroke-width="1"/>
<line x1="535.5" y1="500" x2="535.5" y2="501.5" stroke="#cfcfcf" stroke-width="1"/>
<line x1="535.5" y1="516.5" x2="535.5" y2="518" stroke="#cfcfcf" stroke-width="1"/>
<line x1="542.5" y1="500" x2="542.5" y2="503" stroke="#cfcfcf" stroke-width="1"/>
<line x1="542.5" y1="515" x2="542.5" y2="518" stroke="#cfcfcf" stroke-width="1"/>
<line x1="548.5" y1="500" x2="548.5" y2="501.5" stroke="#cfcfcf" stroke-width="1"/>
<line x1="548.5" y1="516.5" x2="548.5" y2="518" stroke="#cfcfcf" stroke-width="1"/>
<line x1="555.5" y1="500" x2="555.5" y2="501.5" stroke="#cfcfcf" stroke-width="1"/>
<line x1="555.5" y1="516.5" x2="555.5" y2="518" stroke="#cfcfcf" stroke-width="1"/>
<line x1="562.5" y1="500" x2="562.5" y2="501.5" stroke="#cfcfcf" stroke-width="1"/>
<line x1="562.5" y1="516.5" x2="562.5" y2="518" stroke="#cfcfcf" stroke-width="1"/>
<line x1="568.5" y1="500" x2="568.5" y2="501.5" stroke="#cfcfcf" stroke-width="1"/>
<line x1="568.5" y1="516.5" x2="568.5" y2="518" stroke="#cfcfcf" stroke-width="1"/>
<line x1="575.5" y1="500" x2="575.5" y2="503" stroke="#cfcfcf" stroke-width="1"/>
<line x1="575.5" y1="515" x2="575.5" y2="518" stroke="#cfcfcf" stroke-width="1"/>
<line x1="582.5" y1="500" x2="582.5" y2="501.5" stroke="#cfcfcf" stroke-width="1"/>
<line x1="582.5" y1="516.5" x2="582.5" y2="518" stroke="#cfcfcf" stroke-width="1"/>
<line x1="588.5" y1="500" x2="588.5" y2="501.5" stroke="#cfcfcf" stroke-width="1"/>
<line x1="588.5" y1="516.5" x2="588.5" y2="518" stroke="#cfcfcf" stroke-width="1"/>
<line x1="595.5" y1="500" x2="595.5" y2="501.5" stroke="#cfcfcf" stroke-width="1"/>
<line x1="595.5" y1="516.5" x2="595.5" y2="518" stroke="#cfcfcf" stroke-width="1"/>
<line x1="602.5" y1="500" x2="602.5" y2="501.5" stroke="#cfcfcf" stroke-width="1"/>
<line x1="602.5" y1="516.5" x2="602.5" y2="518" stroke="#cfcfcf" stroke-width="1"/>
<line x1="609.5" y1="500" x2="609.5" y2="503" stroke="#cfcfcf" stroke-width="1"/>
<line x1="609.5" y1="515" x2="609.5" y2="518" stroke="#cfcfcf" stroke-width="1"/>
<line x1="615.5" y1="500" x2="615.5" y2="501.5" stroke="#cfcfcf" stroke-width="1"/>
<line x1="615.5" y1="516.5" x2="615.5" y2="518" stroke="#cfcfcf" stroke-width="1"/>
<line x1="622.5" y1="500" x2="622.5" y2="501.5" stroke="#cfcfcf" stroke-width="1"/>
<line x1="622.5" y1="516.5" x2="622.5" y2="518" stroke="#cfcfcf" stroke-width="1"/>
<line x1="629.5" y1="500" x2="629.5" y2="501.5" stroke="#cfcfcf" stroke-width="1"/>
<line x1="629.5" y1="516.5" x2="629.5" y2="518" stroke="#cfcfcf" stroke-width="1"/>
<line x1="635.5" y1="500" x2="635.5" y2="503" stroke="#cfcfcf" stroke-width="1"/>
<line x1="635.5" y1="515" x2="635.5" y2="518" stroke="#cfcfcf" stroke-width="1"/>
<line x1="642.5" y1="500" x2="642.5" y2="503" stroke="#cfcfcf" stroke-width="1"/>
<line x1="642.5" y1="515" x2="642.5" y2="518" stroke="#cfcfcf" stroke-width="1"/>
<line x1="649.5" y1="500" x2="649.5" y2="501.5" stroke="#cfcfcf" stroke-width="1"/>
<line x1="649.5" y1="516.5" x2="649.5" y2="518" stroke="#cfcfcf" stroke-width="1"/>
<line x1="655.5" y1="500" x2="655.5" y2="501.5" stroke="#cfcfcf" stroke-width="1"/>
<line x1="655.5" y1="516.5" x2="655.5" y2="518" stroke="#cfcfcf" stroke-width="1"/>
<line x1="662.5" y1="500" x2="662.5" y2="501.5" stroke="#cfcfcf" stroke-width="1"/>
<line x1="662.5" y1="516.5" x2="662.5" y2="518" stroke="#cfcfcf" stroke-width="1"/>
<line x1="669.5" y1="500" x2="669.5" y2="501.5" stroke="#cfcfcf" stroke-width="1"/>
<line x1="669.5" y1="516.5" x2="669.5" y2="518" stroke="#cfcfcf" stroke-width="1"/>
<line x1="675.5" y1="500" x2="675.5" y2="503" stroke="#cfcfcf" stroke-width="1"/>
<line x1="675.5" y1="515" x2="675.5" y2="518" stroke="#cfcfcf" stroke-width="1"/>
<line x1="682.5" y1="500" x2="682.5" y2="501.5" stroke="#cfcfcf" stroke-width="1"/>
<line x1="682.5" y1="516.5" x2="682.5" y2="518" stroke="#cfcfcf" stroke-width="1"/>
<line x1="689.5" y1="500" x2="689.5" y2="501.5" stroke="#cfcfcf" stroke-width="1"/>
<line x1="689.5" y1="516.5" x2="689.5" y2="518" stroke="#cfcfcf" stroke-width="1"/>
<line x1="696.5" y1="500" x2="696.5" y2="501.5" stroke="#cfcfcf" stroke-width="1"/>
<line x1="696.5" y1="516.5" x2="696.5" y2="518" stroke="#cfcfcf" stroke-width="1"/>
<line x1="702.5" y1="500" x2="702.5" y2="503" stroke="#cfcfcf" stroke-width="1"/>
<line x1="702.5" y1="515" x2="702.5" y2="518" stroke="#cfcfcf" stroke-width="1"/>
<line x1="709.5" y1="500" x2="709.5" y2="501.5" stroke="#cfcfcf" stroke-width="1"/>
<line x1="709.5" y1="516.5" x2="709.5" y2="518" stroke="#cfcfcf" stroke-width="1"/>
<line x1="716.5" y1="500" x2="716.5" y2="501.5" stroke="#cfcfcf" stroke-width="1"/>
<line x1="716.5" y1="516.5" x2="716.5" y2="518" stroke="#cfcfcf" stroke-width="1"/>
<line x1="722.5" y1="500" x2="722.5" y2="501.5" stroke="#cfcfcf" stroke-width="1"/>
<line x1="722.5" y1="516.5" x2="722.5" y2="518" stroke="#cfcfcf" stroke-width="1"/>
<line x1="729.5" y1="500" x2="729.5" y2="501.5" stroke="#cfcfcf" stroke-width="1"/>
<line x1="729.5" y1="516.5" x2="729.5" y2="518" stroke="#cfcfcf" stroke-width="1"/>
<line x1="736.5" y1="500" x2="736.5" y2="503" stroke="#cfcfcf" stroke-width="1"/>
<line x1="736.5" y1="515" x2="736.5" y2="518" stroke="#cfcfcf" stroke-width="1"/>
<line x1="742.5" y1="500" x2="742.5" y2="501.5" stroke="#cfcfcf" stroke-width="1"/>
<line x1="742.5" y1="516.5" x2="742.5" y2="518" stroke="#cfcfcf" stroke-width="1"/>
<line x1="749.5" y1="500" x2="749.5" y2="501.5" stroke="#cfcfcf" stroke-width="1"/>
<line x1="749.5" y1="516.5" x2="749.5" y2="518" stroke="#cfcfcf" stroke-width="1"/>
<line x1="756.5" y1="500" x2="756.5" y2="501.5" stroke="#cfcfcf" stroke-width="1"/>
<line x1="756.5" y1="516.5" x2="756.5" y2="518" stroke="#cfcfcf" stroke-width="1"/>
<line x1="762.5" y1="500" x2="762.5" y2="501.5" stroke="#cfcfcf" stroke-width="1"/>
<line x1="762.5" y1="516.5" x2="762.5" y2="518" stroke="#cfcfcf" stroke-width="1"/>
<line x1="769.5" y1="500" x2="769.5" y2="503" stroke="#cfcfcf" stroke-width="1"/>
<line x1="769.5" y1="515" x2="769.5" y2="518" stroke="#cfcfcf" stroke-width="1"/>
<line x1="776.5" y1="500" x2="776.5" y2="501.5" stroke="#cfcfcf" stroke-width="1"/>
<line x1="776.5" y1="516.5" x2="776.5" y2="518" stroke="#cfcfcf" stroke-width="1"/>
<line x1="782.5" y1="500" x2="782.5" y2="501.5" stroke="#cfcfcf" stroke-width="1"/>
<line x1="782.5" y1="516.5" x2="782.5" y2="518" stroke="#cfcfcf" stroke-width="1"/>
<line x1="789.5" y1="500" x2="789.5" y2="501.5" stroke="#cfcfcf" stroke-width="1"/>
<line x1="789.5" y1="516.5" x2="789.5" y2="518" stroke="#cfcfcf" stroke-width="1"/>
<line x1="796.5" y1="500" x2="796.5" y2="501.5" stroke="#cfcfcf" stroke-width="1"/>
<line x1="796.5" y1="516.5" x2="796.5" y2="518" stroke="#cfcfcf" stroke-width="1"/>
<line x1="803.5" y1="500" x2="803.5" y2="503" stroke="#cfcfcf" stroke-width="1"/>
<line x1="803.5" y1="515" x2="803.5" y2="518" stroke="#cfcfcf" stroke-width="1"/>
<line x1="809.5" y1="500" x2="809.5" y2="501.5" stroke="#cfcfcf" stroke-width="1"/>
<line x1="809.5" y1="516.5" x2="809.5" y2="518" stroke="#cfcfcf" stroke-width="1"/>
<line x1="816.5" y1="500" x2="816.5" y2="501.5" stroke="#cfcfcf" stroke-width="1"/>
<line x1="816.5" y1="516.5" x2="816.5" y2="518" stroke="#cfcfcf" stroke-width="1"/>
<line x1="823.5" y1="500" x2="823.5" y2="501.5" stroke="#cfcfcf" stroke-width="1"/>
<line x1="823.5" y1="516.5" x2="823.5" y2="518" stroke="#cfcfcf" stroke-width="1"/>
<line x1="829.5" y1="500" x2="829.5" y2="501.5" stroke="#cfcfcf" stroke-width="1"/>
<line x1="829.5" y1="516.5" x2="829.5" y2="518" stroke="#cfcfcf" stroke-width="1"/>
<line x1="836.5" y1="500" x2="836.5" y2="503" stroke="#cfcfcf" stroke-width="1"/>
<line x1="836.5" y1="515" x2="836.5" y2="518" stroke="#cfcfcf" stroke-width="1"/>
<line x1="843.5" y1="500" x2="843.5" y2="501.5" stroke="#cfcfcf" stroke-width="1"/>
<line x1="843.5" y1="516.5" x2="843.5" y2="518" stroke="#cfcfcf" stroke-width="1"/>
<line x1="849.5" y1="500" x2="849.5" y2="501.5" stroke="#cfcfcf" stroke-width="1"/>
<line x1="849.5" y1="516.5" x2="849.5" y2="518" stroke="#cfcfcf" stroke-width="1"/>
<line x1="856.5" y1="500" x2="856.5" y2="501.5" stroke="#cfcfcf" stroke-width="1"/>
<line x1="856.5" y1="516.5" x2="856.5" y2="518" stroke="#cfcfcf" stroke-width="1"/>
<line x1="863.5" y1="500" x2="863.5" y2="501.5" stroke="#cfcfcf" stroke-width="1"/>
<line x1="863.5" y1="516.5" x2="863.5" y2="518" stroke="#cfcfcf" stroke-width="1"/>
<line x1="869.5" y1="500" x2="869.5" y2="503" stroke="#cfcfcf" stroke-width="1"/>
<line x1="869.5" y1="515" x2="869.5" y2="518" stroke="#cfcfcf" stroke-width="1"/>
<line x1="876.5" y1="500" x2="876.5" y2="501.5" stroke="#cfcfcf" stroke-width="1"/>
<line x1="876.5" y1="516.5" x2="876.5" y2="518" stroke="#cfcfcf" stroke-width="1"/>
<line x1="883.5" y1="500" x2="883.5" y2="501.5" stroke="#cfcfcf" stroke-width="1"/>
<line x1="883.5" y1="516.5" x2="883.5" y2="518" stroke="#cfcfcf" stroke-width="1"/>
<line x1="886.5" y1="474.5" x2="889.0" y2="474.5" stroke="#b4b4b4" stroke-width="1"/>
<line x1="886.5" y1="467.5" x2="888.0" y2="467.5" stroke="#b4b4b4" stroke-width="1"/>
<line x1="886.5" y1="460.5" x2="888.0" y2="460.5" stroke="#b4b4b4" stroke-width="1"/>
<line x1="886.5" y1="453.5" x2="888.0" y2="453.5" stroke="#b4b4b4" stroke-width="1"/>
<line x1="886.5" y1="446.5" x2="889.0" y2="446.5" stroke="#b4b4b4" stroke-width="1"/>
<line x1="886.5" y1="439.5" x2="888.0" y2="439.5" stroke="#b4b4b4" stroke-width="1"/>
<line x1="886.5" y1="432.5" x2="888.0" y2="432.5" stroke="#b4b4b4" stroke-width="1"/>
<line x1="886.5" y1="426.5" x2="888.0" y2="426.5" stroke="#b4b4b4" stroke-width="1"/>
<line x1="886.5" y1="419.5" x2="889.0" y2="419.5" stroke="#b4b4b4" stroke-width="1"/>
<line x1="886.5" y1="413.5" x2="888.0" y2="413.5" stroke="#b4b4b4" stroke-width="1"/>
<line x1="886.5" y1="407.5" x2="888.0" y2="407.5" stroke="#b4b4b4" stroke-width="1"/>
<line x1="886.5" y1="400.5" x2="888.0" y2="400.5" stroke="#b4b4b4" stroke-width="1"/>
<line x1="886.5" y1="394.5" x2="889.0" y2="394.5" stroke="#b4b4b4" stroke-width="1"/>
<line x1="886.5" y1="388.5" x2="888.0" y2="388.5" stroke="#b4b4b4" stroke-width="1"/>
<line x1="886.5" y1="382.5" x2="888.0" y2="382.5" stroke="#b4b4b4" stroke-width="1"/>
<line x1="886.5" y1="376.5" x2="888.0" y2="376.5" stroke="#b4b4b4" stroke-width="1"/>
<line x1="886.5" y1="370.5" x2="889.0" y2="370.5" stroke="#b4b4b4" stroke-width="1"/>
<line x1="886.5" y1="365.5" x2="888.0" y2="365.5" stroke="#b4b4b4" stroke-width="1"/>
<line x1="886.5" y1="359.5" x2="888.0" y2="359.5" stroke="#b4b4b4" stroke-width="1"/>
<line x1="886.5" y1="354.5" x2="888.0" y2="354.5" stroke="#b4b4b4" stroke-width="1"/>
<line x1="886.5" y1="348.5" x2="889.0" y2="348.5" stroke="#b4b4b4" stroke-width="1"/>
<line x1="886.5" y1="343.5" x2="888.0" y2="343.5" stroke="#b4b4b4" stroke-width="1"/>
<line x1="886.5" y1="338.5" x2="888.0" y2="338.5" stroke="#b4b4b4" stroke-width="1"/>
<line x1="886.5" y1="332.5" x2="888.0" y2="332.5" stroke="#b4b4b4" stroke-width="1"/>
<line x1="886.5" y1="327.5" x2="889.0" y2="327.5" stroke="#b4b4b4" stroke-width="1"/>
<line x1="886.5" y1="322.5" x2="888.0" y2="322.5" stroke="#b4b4b4" stroke-width="1"/>
<line x1="886.5" y1="317.5" x2="888.0" y2="317.5" stroke="#b4b4b4" stroke-width="1"/>
<line x1="886.5" y1="312.5" x2="888.0" y2="312.5" stroke="#b4b4b4" stroke-width="1"/>
<line x1="886.5" y1="307.5" x2="889.0" y2="307.5" stroke="#b4b4b4" stroke-width="1"/>
<line x1="886.5" y1="302.5" x2="888.0" y2="302.5" stroke="#b4b4b4" stroke-width="1"/>
<line x1="886.5" y1="297.5" x2="888.0" y2="297.5" stroke="#b4b4b4" stroke-width="1"/>
<line x1="886.5" y1="292.5" x2="888.0" y2="292.5" stroke="#b4b4b4" stroke-width="1"/>
<line x1="886.5" y1="287.5" x2="889.0" y2="287.5" stroke="#b4b4b4" stroke-width="1"/>
<line x1="886.5" y1="283.5" x2="888.0" y2="283.5" stroke="#b4b4b4" stroke-width="1"/>
<line x1="886.5" y1="278.5" x2="888.0" y2="278.5" stroke="#b4b4b4" stroke-width="1"/>
<line x1="886.5" y1="274.5" x2="888.0" y2="274.5" stroke="#b4b4b4" stroke-width="1"/>
<line x1="886.5" y1="269.5" x2="889.0" y2="269.5" stroke="#b4b4b4" stroke-width="1"/>
<line x1="886.5" y1="265.5" x2="888.0" y2="265.5" stroke="#b4b4b4" stroke-width="1"/>
<line x1="886.5" y1="261.5" x2="888.0" y2="261.5" stroke="#b4b4b4" stroke-width="1"/>
<line x1="886.5" y1="256.5" x2="888.0" y2="256.5" stroke="#b4b4b4" stroke-width="1"/>
<line x1="886.5" y1="252.5" x2="889.0" y2="252.5" stroke="#b4b4b4" stroke-width="1"/>
<line x1="886.5" y1="248.5" x2="888.0" y2="248.5" stroke="#b4b4b4" stroke-width="1"/>
<line x1="886.5" y1="243.5" x2="888.0" y2="243.5" stroke="#b4b4b4" stroke-width="1"/>
<line x1="886.5" y1="239.5" x2="888.0" y2="239.5" stroke="#b4b4b4" stroke-width="1"/>
<line x1="886.5" y1="235.5" x2="889.0" y2="235.5" stroke="#b4b4b4" stroke-width="1"/>
<line x1="886.5" y1="231.5" x2="888.0" y2="231.5" stroke="#b4b4b4" stroke-width="1"/>
<line x1="886.5" y1="227.5" x2="888.0" y2="227.5" stroke="#b4b4b4" stroke-width="1"/>
<line x1="886.5" y1="223.5" x2="888.0" y2="223.5" stroke="#b4b4b4" stroke-width="1"/>
<line x1="886.5" y1="218.5" x2="889.0" y2="218.5" stroke="#b4b4b4" stroke-width="1"/>
<line x1="886.5" y1="215.5" x2="888.0" y2="215.5" stroke="#b4b4b4" stroke-width="1"/>
<line x1="886.5" y1="211.5" x2="888.0" y2="211.5" stroke="#b4b4b4" stroke-width="1"/>
<line x1="886.5" y1="207.5" x2="888.0" y2="207.5" stroke="#b4b4b4" stroke-width="1"/>
<line x1="886.5" y1="203.5" x2="889.0" y2="203.5" stroke="#b4b4b4" stroke-width="1"/>
<line x1="886.5" y1="199.5" x2="888.0" y2="199.5" stroke="#b4b4b4" stroke-width="1"/>
<line x1="886.5" y1="196.5" x2="888.0" y2="196.5" stroke="#b4b4b4" stroke-width="1"/>
<line x1="886.5" y1="192.5" x2="888.0" y2="192.5" stroke="#b4b4b4" stroke-width="1"/>
<line x1="886.5" y1="188.5" x2="889.0" y2="188.5" stroke="#b4b4b4" stroke-width="1"/>
<line x1="886.5" y1="184.5" x2="888.0" y2="184.5" stroke="#b4b4b4" stroke-width="1"/>
<line x1="886.5" y1="181.5" x2="888.0" y2="181.5" stroke="#b4b4b4" stroke-width="1"/>
<line x1="886.5" y1="177.5" x2="888.0" y2="177.5" stroke="#b4b4b4" stroke-width="1"/>
<line x1="886.5" y1="173.5" x2="889.0" y2="173.5" stroke="#b4b4b4" stroke-width="1"/>
<line x1="886.5" y1="170.5" x2="888.0" y2="170.5" stroke="#b4b4b4" stroke-width="1"/>
<line x1="886.5" y1="167.5" x2="888.0" y2="167.5" stroke="#b4b4b4" stroke-width="1"/>
<line x1="886.5" y1="163.5" x2="888.0" y2="163.5" stroke="#b4b4b4" stroke-width="1"/>
<line x1="886.5" y1="159.5" x2="889.0" y2="159.5" stroke="#b4b4b4" stroke-width="1"/>
<line x1="886.5" y1="156.5" x2="888.0" y2="156.5" stroke="#b4b4b4" stroke-width="1"/>
<line x1="886.5" y1="153.5" x2="888.0" y2="153.5" stroke="#b4b4b4" stroke-width="1"/>
<line x1="886.5" y1="149.5" x2="888.0" y2="149.5" stroke="#b4b4b4" stroke-width="1"/>
<line x1="886.5" y1="146.5" x2="889.0" y2="146.5" stroke="#b4b4b4" stroke-width="1"/>
<line x1="886.5" y1="143.5" x2="888.0" y2="143.5" stroke="#b4b4b4" stroke-width="1"/>
<line x1="886.5" y1="140.5" x2="888.0" y2="140.5" stroke="#b4b4b4" stroke-width="1"/>
<line x1="886.5" y1="136.5" x2="888.0" y2="136.5" stroke="#b4b4b4" stroke-width="1"/>
<line x1="886.5" y1="133.5" x2="889.0" y2="133.5" stroke="#b4b4b4" stroke-width="1"/>
<line x1="886.5" y1="118.5" x2="889.0" y2="118.5" stroke="#b4b4b4" stroke-width="1"/>
<line x1="886.5" y1="113.5" x2="888.0" y2="113.5" stroke="#b4b4b4" stroke-width="1"/>
<line x1="886.5" y1="108.5" x2="889.0" y2="108.5" stroke="#b4b4b4" stroke-width="1"/>
<line x1="886.5" y1="102.5" x2="888.0" y2="102.5" stroke="#b4b4b4" stroke-width="1"/>
<line x1="886.5" y1="97.5" x2="889.0" y2="97.5" stroke="#b4b4b4" stroke-width="1"/>
<line x1="886.5" y1="92.5" x2="888.0" y2="92.5" stroke="#b4b4b4" stroke-width="1"/>
<line x1="886.5" y1="86.5" x2="889.0" y2="86.5" stroke="#b4b4b4" stroke-width="1"/>
<line x1="886.5" y1="80.5" x2="888.0" y2="80.5" stroke="#b4b4b4" stroke-width="1"/>
<line x1="886.5" y1="75.5" x2="889.0" y2="75.5" stroke="#b4b4b4" stroke-width="1"/>
<line x1="886.5" y1="69.5" x2="888.0" y2="69.5" stroke="#b4b4b4" stroke-width="1"/>
<line x1="886.5" y1="63.5" x2="889.0" y2="63.5" stroke="#b4b4b4" stroke-width="1"/>
<line x1="886.5" y1="58.5" x2="888.0" y2="58.5" stroke="#b4b4b4" stroke-width="1"/>
<line x1="886.5" y1="52.5" x2="889.0" y2="52.5" stroke="#b4b4b4" stroke-width="1"/>
<line x1="886.5" y1="46.5" x2="888.0" y2="46.5" stroke="#b4b4b4" stroke-width="1"/>
<line x1="886.5" y1="41.5" x2="889.0" y2="41.5" stroke="#b4b4b4" stroke-width="1"/>
<line x1="886.5" y1="36.5" x2="888.0" y2="36.5" stroke="#b4b4b4" stroke-width="1"/>
<line x1="886.5" y1="30.5" x2="889.0" y2="30.5" stroke="#b4b4b4" stroke-width="1"/>
<line x1="886.5" y1="24.5" x2="888.0" y2="24.5" stroke="#b4b4b4" stroke-width="1"/>
<line x1="886.5" y1="19.5" x2="889.0" y2="19.5" stroke="#b4b4b4" stroke-width="1"/>
<line x1="886.5" y1="13.5" x2="888.0" y2="13.5" stroke="#b4b4b4" stroke-width="1"/>
<line x1="886.5" y1="7.5" x2="889.0" y2="7.5" stroke="#b4b4b4" stroke-width="1"/>
<line x1="886.5" y1="620.5" x2="889.0" y2="620.5" stroke="#b4b4b4" stroke-width="1"/>
<line x1="886.5" y1="608.5" x2="888.0" y2="608.5" stroke="#b4b4b4" stroke-width="1"/>
<line x1="886.5" y1="596.5" x2="889.0" y2="596.5" stroke="#b4b4b4" stroke-width="1"/>
<line x1="886.5" y1="585.5" x2="888.0" y2="585.5" stroke="#b4b4b4" stroke-width="1"/>
<line x1="886.5" y1="573.5" x2="889.0" y2="573.5" stroke="#b4b4b4" stroke-width="1"/>
<line x1="886.5" y1="561.5" x2="888.0" y2="561.5" stroke="#b4b4b4" stroke-width="1"/>
<line x1="886.5" y1="549.5" x2="889.0" y2="549.5" stroke="#b4b4b4" stroke-width="1"/>
<line x1="886.5" y1="537.5" x2="888.0" y2="537.5" stroke="#b4b4b4" stroke-width="1"/>
<line x1="886.5" y1="525.5" x2="889.0" y2="525.5" stroke="#b4b4b4" stroke-width="1"/>
</g>
<filter id="idf" x="0" y="0" width="936" height="630" filterUnits="userSpaceOnUse"><feOffset dx="0" dy="0"/></filter><g filter="url(#idf)">
<text x="890" y="21.6" font-size="12.3" fill="#000" text-anchor="start" textLength="15" lengthAdjust="spacingAndGlyphs" stroke="#000" stroke-width="0.25">90</text>
<text x="890" y="43.6" font-size="12.3" fill="#000" text-anchor="start" textLength="15" lengthAdjust="spacingAndGlyphs" stroke="#000" stroke-width="0.25">70</text>
<text x="890" y="65.6" font-size="12.3" fill="#000" text-anchor="start" textLength="15" lengthAdjust="spacingAndGlyphs" stroke="#000" stroke-width="0.25">50</text>
<text x="890" y="88.6" font-size="12.3" fill="#000" text-anchor="start" textLength="15" lengthAdjust="spacingAndGlyphs" stroke="#000" stroke-width="0.25">30</text>
<text x="890" y="110.6" font-size="12.3" fill="#000" text-anchor="start" textLength="15" lengthAdjust="spacingAndGlyphs" stroke="#000" stroke-width="0.25">10</text>
<text x="890" y="476.7" font-size="12.3" fill="#000" text-anchor="start" textLength="15" lengthAdjust="spacingAndGlyphs" stroke="#000" stroke-width="0.25">14</text>
<text x="890" y="448.7" font-size="12.3" fill="#000" text-anchor="start" textLength="15" lengthAdjust="spacingAndGlyphs" stroke="#000" stroke-width="0.25">15</text>
<text x="890" y="421.7" font-size="12.3" fill="#000" text-anchor="start" textLength="15" lengthAdjust="spacingAndGlyphs" stroke="#000" stroke-width="0.25">16</text>
<text x="890" y="396.7" font-size="12.3" fill="#000" text-anchor="start" textLength="15" lengthAdjust="spacingAndGlyphs" stroke="#000" stroke-width="0.25">17</text>
<text x="890" y="372.7" font-size="12.3" fill="#000" text-anchor="start" textLength="15" lengthAdjust="spacingAndGlyphs" stroke="#000" stroke-width="0.25">18</text>
<text x="890" y="350.7" font-size="12.3" fill="#000" text-anchor="start" textLength="15" lengthAdjust="spacingAndGlyphs" stroke="#000" stroke-width="0.25">19</text>
<text x="890" y="329.7" font-size="12.3" fill="#000" text-anchor="start" textLength="15" lengthAdjust="spacingAndGlyphs" stroke="#000" stroke-width="0.25">20</text>
<text x="890" y="309.7" font-size="12.3" fill="#000" text-anchor="start" textLength="15" lengthAdjust="spacingAndGlyphs" stroke="#000" stroke-width="0.25">21</text>
<text x="890" y="289.7" font-size="12.3" fill="#000" text-anchor="start" textLength="15" lengthAdjust="spacingAndGlyphs" stroke="#000" stroke-width="0.25">22</text>
<text x="890" y="271.7" font-size="12.3" fill="#000" text-anchor="start" textLength="15" lengthAdjust="spacingAndGlyphs" stroke="#000" stroke-width="0.25">23</text>
<text x="890" y="254.7" font-size="12.3" fill="#000" text-anchor="start" textLength="15" lengthAdjust="spacingAndGlyphs" stroke="#000" stroke-width="0.25">24</text>
<text x="890" y="237.7" font-size="12.3" fill="#000" text-anchor="start" textLength="15" lengthAdjust="spacingAndGlyphs" stroke="#000" stroke-width="0.25">25</text>
<text x="890" y="220.7" font-size="12.3" fill="#000" text-anchor="start" textLength="15" lengthAdjust="spacingAndGlyphs" stroke="#000" stroke-width="0.25">26</text>
<text x="890" y="205.7" font-size="12.3" fill="#000" text-anchor="start" textLength="15" lengthAdjust="spacingAndGlyphs" stroke="#000" stroke-width="0.25">27</text>
<text x="890" y="190.7" font-size="12.3" fill="#000" text-anchor="start" textLength="15" lengthAdjust="spacingAndGlyphs" stroke="#000" stroke-width="0.25">28</text>
<text x="890" y="175.7" font-size="12.3" fill="#000" text-anchor="start" textLength="15" lengthAdjust="spacingAndGlyphs" stroke="#000" stroke-width="0.25">29</text>
<text x="890" y="161.7" font-size="12.3" fill="#000" text-anchor="start" textLength="15" lengthAdjust="spacingAndGlyphs" stroke="#000" stroke-width="0.25">30</text>
<text x="890" y="148.7" font-size="12.3" fill="#000" text-anchor="start" textLength="15" lengthAdjust="spacingAndGlyphs" stroke="#000" stroke-width="0.25">31</text>
<text x="890" y="135.7" font-size="12.3" fill="#000" text-anchor="start" textLength="15" lengthAdjust="spacingAndGlyphs" stroke="#000" stroke-width="0.25">32</text>
<text x="894" y="528.8" font-size="12" fill="#000" text-anchor="start" textLength="18.5" lengthAdjust="spacingAndGlyphs" stroke="#000" stroke-width="0.25">2.0</text>
<text x="894" y="552.4499999999999" font-size="12" fill="#000" text-anchor="start" textLength="18.5" lengthAdjust="spacingAndGlyphs" stroke="#000" stroke-width="0.25">1.5</text>
<text x="894" y="576.1" font-size="12" fill="#000" text-anchor="start" textLength="18.5" lengthAdjust="spacingAndGlyphs" stroke="#000" stroke-width="0.25">1.0</text>
<text x="894" y="599.75" font-size="12" fill="#000" text-anchor="start" textLength="18.5" lengthAdjust="spacingAndGlyphs" stroke="#000" stroke-width="0.25">0.5</text>
<text x="894" y="623.4" font-size="12" fill="#000" text-anchor="start" textLength="18.5" lengthAdjust="spacingAndGlyphs" stroke="#000" stroke-width="0.25">0.0</text>
<text x="25.1" y="513.2" font-size="12.4" fill="#000" text-anchor="start" textLength="15" lengthAdjust="spacingAndGlyphs" stroke="#000" stroke-width="0.25">22</text>
<text x="90.61000000000001" y="513.2" font-size="12.4" fill="#000" text-anchor="start" textLength="7.6" lengthAdjust="spacingAndGlyphs" stroke="#000" stroke-width="0.25">6</text>
<text x="118.76" y="513.2" font-size="12.4" fill="#000" text-anchor="start" textLength="15" lengthAdjust="spacingAndGlyphs" stroke="#000" stroke-width="0.25">13</text>
<text x="152.21" y="513.2" font-size="12.4" fill="#000" text-anchor="start" textLength="15" lengthAdjust="spacingAndGlyphs" stroke="#000" stroke-width="0.25">20</text>
<text x="178.97" y="513.2" font-size="12.4" fill="#000" text-anchor="start" textLength="15" lengthAdjust="spacingAndGlyphs" stroke="#000" stroke-width="0.25">27</text>
<text x="245.87" y="513.2" font-size="12.4" fill="#000" text-anchor="start" textLength="15" lengthAdjust="spacingAndGlyphs" stroke="#000" stroke-width="0.25">10</text>
<text x="279.32000000000005" y="513.2" font-size="12.4" fill="#000" text-anchor="start" textLength="15" lengthAdjust="spacingAndGlyphs" stroke="#000" stroke-width="0.25">18</text>
<text x="306.08000000000004" y="513.2" font-size="12.4" fill="#000" text-anchor="start" textLength="15" lengthAdjust="spacingAndGlyphs" stroke="#000" stroke-width="0.25">24</text>
<text x="378.28" y="513.2" font-size="12.4" fill="#000" text-anchor="start" textLength="7.6" lengthAdjust="spacingAndGlyphs" stroke="#000" stroke-width="0.25">7</text>
<text x="406.43000000000006" y="513.2" font-size="12.4" fill="#000" text-anchor="start" textLength="15" lengthAdjust="spacingAndGlyphs" stroke="#000" stroke-width="0.25">14</text>
<text x="439.88000000000005" y="513.2" font-size="12.4" fill="#000" text-anchor="start" textLength="15" lengthAdjust="spacingAndGlyphs" stroke="#000" stroke-width="0.25">22</text>
<text x="505.39" y="513.2" font-size="12.4" fill="#000" text-anchor="start" textLength="7.6" lengthAdjust="spacingAndGlyphs" stroke="#000" stroke-width="0.25">7</text>
<text x="533.5400000000001" y="513.2" font-size="12.4" fill="#000" text-anchor="start" textLength="15" lengthAdjust="spacingAndGlyphs" stroke="#000" stroke-width="0.25">14</text>
<text x="566.99" y="513.2" font-size="12.4" fill="#000" text-anchor="start" textLength="15" lengthAdjust="spacingAndGlyphs" stroke="#000" stroke-width="0.25">21</text>
<text x="600.44" y="513.2" font-size="12.4" fill="#000" text-anchor="start" textLength="15" lengthAdjust="spacingAndGlyphs" stroke="#000" stroke-width="0.25">28</text>
<text x="667.34" y="513.2" font-size="12.4" fill="#000" text-anchor="start" textLength="15" lengthAdjust="spacingAndGlyphs" stroke="#000" stroke-width="0.25">11</text>
<text x="694.1" y="513.2" font-size="12.4" fill="#000" text-anchor="start" textLength="15" lengthAdjust="spacingAndGlyphs" stroke="#000" stroke-width="0.25">18</text>
<text x="727.5500000000001" y="513.2" font-size="12.4" fill="#000" text-anchor="start" textLength="15" lengthAdjust="spacingAndGlyphs" stroke="#000" stroke-width="0.25">25</text>
<text x="799.7500000000001" y="513.2" font-size="12.4" fill="#000" text-anchor="start" textLength="7.6" lengthAdjust="spacingAndGlyphs" stroke="#000" stroke-width="0.25">9</text>
<text x="827.9000000000001" y="513.2" font-size="12.4" fill="#000" text-anchor="start" textLength="15" lengthAdjust="spacingAndGlyphs" stroke="#000" stroke-width="0.25">16</text>
<text x="861.35" y="513.2" font-size="12.4" fill="#000" text-anchor="start" textLength="15" lengthAdjust="spacingAndGlyphs" stroke="#000" stroke-width="0.25">23</text>
<text x="60.84" y="513.7" font-size="15.5" fill="#000" text-anchor="start" textLength="26" lengthAdjust="spacingAndGlyphs" stroke="#000" stroke-width="0.4" font-weight="bold">Dec</text>
<text x="204.02" y="513.7" font-size="15.5" fill="#000" text-anchor="start" textLength="34" lengthAdjust="spacingAndGlyphs" stroke="#000" stroke-width="0.4" font-weight="bold">2022</text>
<text x="341.82" y="513.7" font-size="15.5" fill="#000" text-anchor="start" textLength="26" lengthAdjust="spacingAndGlyphs" stroke="#000" stroke-width="0.4" font-weight="bold">Feb</text>
<text x="468.43" y="513.7" font-size="15.5" fill="#000" text-anchor="start" textLength="27" lengthAdjust="spacingAndGlyphs" stroke="#000" stroke-width="0.4" font-weight="bold">Mar</text>
<text x="623.3000000000001" y="513.7" font-size="15.5" fill="#000" text-anchor="start" textLength="27" lengthAdjust="spacingAndGlyphs" stroke="#000" stroke-width="0.4" font-weight="bold">Apr</text>
<text x="755.3500000000001" y="513.7" font-size="15.5" fill="#000" text-anchor="start" textLength="28.5" lengthAdjust="spacingAndGlyphs" stroke="#000" stroke-width="0.4" font-weight="bold">May</text>
<rect x="23" y="0" width="128" height="14" fill="#fff"/>
<path d="M25.5,11.5 L25.5,9 L28,3.5 L29.5,1 L31.5,5.5 L33,8 L35,4 L37,4 L37,11.5 Z" fill="#6f9b6f"/><path d="M25.5,9 L28,3.5 L29.5,1 L31.5,5.5 L33,8 L35,4 L36.5,4 L36.5,11" fill="none" stroke="#000" stroke-width="1.3"/>
<text x="42.5" y="11.7" font-size="12" fill="#000" text-anchor="start" textLength="106.2" lengthAdjust="spacingAndGlyphs" letter-spacing="1.2" stroke="#000" stroke-width="0.2">RSI(14) 45.14</text>
<rect x="23" y="128.5" width="162" height="17.5" fill="#fff"/>
<rect x="23" y="146" width="104.5" height="41" fill="#fff"/>
<g stroke="#000" stroke-width="1.3" fill="#fff"><line x1="27.6" y1="131" x2="27.6" y2="141.5"/><rect x="26" y="132.8" width="3.2" height="6.4" rx="1"/><line x1="34.8" y1="131" x2="34.8" y2="141.5"/><rect x="33.2" y="132.8" width="3.2" height="6.4" rx="1"/><path d="M29.5,135.5 L33,135.5 L33,140 L30.5,140 Z" fill="#000" stroke-width="0.8"/></g>
<text x="42.5" y="141.6" font-size="12.5" fill="#000" text-anchor="start" textLength="140.2" lengthAdjust="spacingAndGlyphs" letter-spacing="1.2" stroke="#000" stroke-width="0.2">$TNX (Daily) 27.38</text>
<line x1="25.5" y1="151.2" x2="37.5" y2="151.2" stroke="#14149c" stroke-width="2.7"/>
<text x="40" y="156.2" font-size="11.3" fill="#0c0c92" text-anchor="start" textLength="77.8" lengthAdjust="spacingAndGlyphs" letter-spacing="0.3" stroke="#0c0c92" stroke-width="0.3">MA(50) 26.96</text>
<line x1="25.5" y1="166" x2="37.5" y2="166" stroke="#d1123b" stroke-width="2.7"/>
<text x="40" y="170.3" font-size="11.3" fill="#d1123b" text-anchor="start" textLength="84.7" lengthAdjust="spacingAndGlyphs" letter-spacing="0.3" stroke="#d1123b" stroke-width="0.3">MA(200) 18.66</text>
<g fill="#aaa" stroke="#555" stroke-width="1"><rect x="26" y="178.5" width="1.6" height="6"/><rect x="28.8" y="175" width="1.8" height="9.5"/><rect x="31.8" y="175" width="2" height="9.5"/><rect x="35" y="177.5" width="1.6" height="7"/></g>
<text x="40" y="184" font-size="11.3" fill="#555" text-anchor="start" textLength="83.3" lengthAdjust="spacingAndGlyphs" letter-spacing="0.3" stroke="#555" stroke-width="0.3">Volume undef</text>
<line x1="25.5" y1="527.1" x2="37" y2="527.1" stroke="#000" stroke-width="2.7"/>
<text x="42.5" y="532" font-size="12" fill="#000" text-anchor="start" textLength="160.7" lengthAdjust="spacingAndGlyphs" letter-spacing="1.2" stroke="#000" stroke-width="0.2">MACD(12,26,9) 0.300</text>
<text x="204" y="532" font-size="12" fill="#f00" text-anchor="start" textLength="51" lengthAdjust="spacingAndGlyphs" letter-spacing="1.2" stroke="#f00" stroke-width="0.2">, 0.721</text>
<text x="257.5" y="532" font-size="12" fill="#3b96cf" text-anchor="start" textLength="58.5" lengthAdjust="spacingAndGlyphs" letter-spacing="1.2" stroke="#3b96cf" stroke-width="0.2">, -0.422</text>
<path d="M882.6,67.6 L888,60.99999999999999 L927.5,60.99999999999999 L927.5,74.19999999999999 L888,74.19999999999999 Z" fill="#fff" stroke="#000" stroke-width="1.3" stroke-linejoin="miter"/>
<text x="889.2" y="72.52799999999999" font-size="12.3" fill="#000" text-anchor="start" textLength="36" lengthAdjust="spacingAndGlyphs" stroke="#000" stroke-width="0.15">45.14</text>
<path d="M883,203.3 L888,196.8 L928,196.8 L928,209.8 L888,209.8 Z" fill="#fff" stroke="#14149c" stroke-width="1.5" stroke-linejoin="miter"/>
<text x="889.2" y="208.12" font-size="12" fill="#000" text-anchor="start" textLength="36" lengthAdjust="spacingAndGlyphs" stroke="#000" stroke-width="0.15">26.96</text>
<path d="M883,196.5 L888,189.0 L928,189.0 L928,204.0 L888,204.0 Z" fill="#fff" stroke="#000" stroke-width="1.5" stroke-linejoin="miter"/>
<text x="889.5" y="201.5" font-size="12.5" fill="#000" text-anchor="start" textLength="35" lengthAdjust="spacingAndGlyphs" stroke="#000" stroke-width="0.3" font-weight="bold">27.38</text>
<path d="M883,354.2 L888,347.7 L928,347.7 L928,360.7 L888,360.7 Z" fill="#fff" stroke="#d1123b" stroke-width="1.5" stroke-linejoin="miter"/>
<text x="889.2" y="359.02" font-size="12" fill="#000" text-anchor="start" textLength="36" lengthAdjust="spacingAndGlyphs" stroke="#000" stroke-width="0.15">18.66</text>
<path d="M883,584 L888,577.0 L927.5,577.0 L927.5,591.0 L888,591.0 Z" fill="#fff" stroke="#f00" stroke-width="1.5" stroke-linejoin="miter"/>
<text x="889.2" y="588.82" font-size="12" fill="#000" text-anchor="start" textLength="36" lengthAdjust="spacingAndGlyphs" stroke="#000" stroke-width="0.15">0.721</text>
<path d="M883,604 L888,597.25 L927.5,597.25 L927.5,610.75 L888,610.75 Z" fill="#fff" stroke="#000" stroke-width="1.5" stroke-linejoin="miter"/>
<text x="889.2" y="608.82" font-size="12" fill="#000" text-anchor="start" textLength="36" lengthAdjust="spacingAndGlyphs" stroke="#000" stroke-width="0.15">0.300</text>
</g>
</svg></body></html>
